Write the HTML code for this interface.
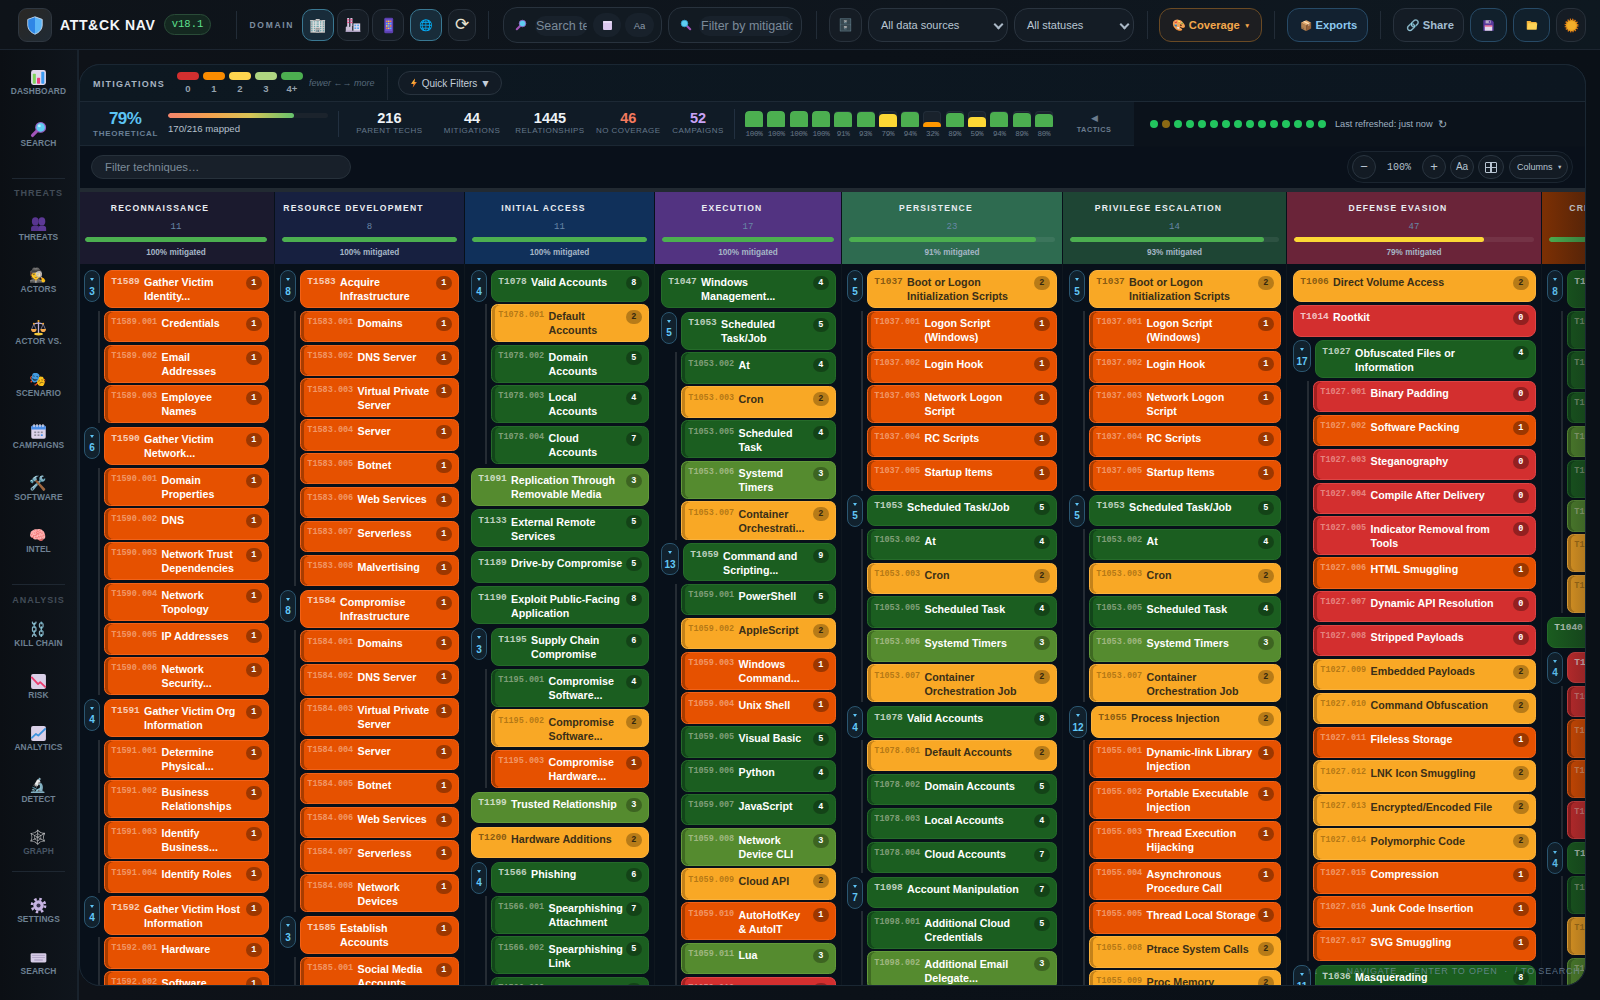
<!DOCTYPE html>
<html><head><meta charset="utf-8"><title>ATT&amp;CK Navigator</title>
<style>
*{box-sizing:border-box;margin:0;padding:0}
html,body{width:1600px;height:1000px;overflow:hidden;background:#0a0f16;font-family:"Liberation Sans",Arial,sans-serif;color:#dfe6ee}
.a{position:absolute}
.em{font-family:"Noto Color Emoji","Liberation Sans",sans-serif;font-weight:normal;letter-spacing:0}
.mono{font-family:"Liberation Mono",monospace}
/* top bar */
#top{position:absolute;left:0;top:0;width:1600px;height:50px;background:linear-gradient(90deg,#0e1319 0%,#0f161e 60%,#0e1820 100%);border-bottom:1px solid #1c2530}
.vd{position:absolute;width:1px;background:#222c37}
.logo{left:18px;top:8px;width:34px;height:34px;border-radius:9px;background:linear-gradient(135deg,#2b2824,#1f2a34);border:1px solid #2f3740;text-align:center;font-size:17px;line-height:32px}
.brand{left:60px;top:16px;font-weight:bold;font-size:14px;letter-spacing:.65px;color:#f3f5f8;line-height:18px;white-space:nowrap}
.ver{left:164px;top:14px;width:47px;height:21px;border-radius:11px;background:#142820;border:1px solid #2a4c38;color:#5ee08f;font:10.5px/19px "Liberation Mono",monospace;text-align:center}
.lbl{font-weight:bold;font-size:8.5px;letter-spacing:2px;color:#7d8ea0}
.ib{position:absolute;top:9px;width:32px;height:32px;border-radius:10px;background:#151c24;border:1px solid #28313b;text-align:center;font-size:14px;line-height:30px}
.ib.on{background:#182c3a;border-color:#3a7892}
.grp{position:absolute;top:7px;height:36px;border-radius:14px;background:#121a22;border:1px solid #28323d}
.fld{position:absolute;top:8px;height:20px;border-radius:10px;background:#18212b;color:#7b8a99;font-size:12.5px;line-height:20px;white-space:nowrap;overflow:hidden}
.sel{position:absolute;top:8px;height:34px;border-radius:14px;background:#141c25;border:1px solid #2a343f;color:#b9c6d3;font-size:11px;line-height:32px;padding-left:12px;white-space:nowrap}
.chev{position:absolute;top:12px;width:7px;height:7px;border-right:2px solid #aab8c6;border-bottom:2px solid #aab8c6;transform:rotate(45deg)}
.btn{position:absolute;top:8px;height:34px;border-radius:12px;font-weight:bold;font-size:11.2px;line-height:32px;white-space:nowrap}
/* sidebar */
#side{position:absolute;left:0;top:50px;width:77px;height:950px;background:linear-gradient(90deg,#0b0f14,#0f151c)}
#sideb{position:absolute;left:77px;top:50px;width:2px;height:950px;background:#19232d}
.si{position:absolute;left:0;width:77px;text-align:center}
.si .ic{display:block;font-size:14px;line-height:16px;height:16px}
.si .tx{display:block;font-weight:bold;font-size:8.4px;letter-spacing:.1px;color:#6e8193;line-height:10px;margin-top:1.2px;white-space:nowrap}
.sh{position:absolute;left:0;width:77px;text-align:center;font-weight:bold;font-size:9px;letter-spacing:1px;color:#424c57;line-height:10px}
.sdv{position:absolute;left:12px;width:53px;height:1px;background:#1e2731}
/* panel */
#bg2{position:absolute;left:79px;top:50px;width:1521px;height:950px;background:linear-gradient(90deg,#0e1218,#0b1118 50%,#0a1017)}
#panel{position:absolute;left:79px;top:64px;width:1507px;height:922px;border:1px solid #1a2733;border-radius:21px;background:#0a111a;overflow:hidden}
#leg{position:absolute;left:0;top:0;width:1507px;height:37px;background:linear-gradient(90deg,#0d1821,#0c1620);border-bottom:1px solid #1d2935}
#stats{position:absolute;left:0;top:37px;width:1054px;height:44px;background:#101b26;border-bottom:1px solid #1b2733}
#stats2{position:absolute;left:1054px;top:37px;width:453px;height:44px;background:#0b121b}
#filt{position:absolute;left:0;top:82px;width:1507px;height:42px;background:#09101a}
#band{position:absolute;left:0;top:123px;width:1507px;height:4px;background:#222a32}
#mxbg{position:absolute;left:0;top:127px;width:1507px;height:800px;background:#08101a}
.sw{position:absolute;top:7.2px;width:22px;height:8px;border-radius:4px}
.swn{position:absolute;top:18.6px;width:22px;text-align:center;font-size:9.5px;font-weight:bold;color:#95a2ae;line-height:10px}
.stn{position:absolute;text-align:center;font-weight:bold;font-size:14.5px;line-height:16px;color:#eef2f6}
.stl{position:absolute;text-align:center;font-size:8px;letter-spacing:.45px;color:#64778a;line-height:10px;white-space:nowrap}
.tbar{position:absolute;top:9px;width:18px;height:16px;border-radius:4px 4px 1px 1px;background:#19222c;box-shadow:inset 0 0 0 1px #222d39;overflow:hidden}
.tbar i{position:absolute;left:0;bottom:0;width:18px;border-radius:4px 4px 0 0}
.tbl{position:absolute;top:28px;width:22px;text-align:center;font-size:7.6px;color:#687888;line-height:8px;letter-spacing:-.3px}
.dot{position:absolute;top:57px;width:8px;height:8px;border-radius:4px;background:#22c55e}
.zb{position:absolute;top:90px;width:24px;height:24px;border-radius:12px;background:#131b24;border:1px solid #2a3540;text-align:center;color:#b7c4d1;font-size:11px;line-height:22px}
/* matrix */
#mx{position:absolute;left:0;top:0;width:1600px;height:1000px;clip-path:inset(192px 15px 15px 79px round 0 0 20px 20px)}
.th{position:absolute;top:192px;height:72px}
.tt{position:absolute;left:0;top:11px;text-align:center;font-weight:bold;font-size:8.6px;letter-spacing:1.2px;color:#e9edf2;line-height:10px;white-space:nowrap}
.tc{position:absolute;left:0;width:100%;top:29.5px;text-align:center;font:9px/10px "Liberation Mono",monospace;color:#6887a6}
.tb{position:absolute;left:7px;right:7px;top:45px;height:5px;border-radius:3px;background:rgba(255,255,255,.07);overflow:hidden}
.tb div{height:5px;border-radius:3px}
.tp{position:absolute;left:0;width:100%;top:55.5px;text-align:center;font-weight:bold;font-size:8.2px;color:#a6b6c6;line-height:10px}
.csep{position:absolute;top:264px;width:1px;height:730px;background:#0f171f}
.cd{position:absolute;border:1px solid;border-radius:8px;overflow:hidden}
.idp{position:absolute;left:6.3px;top:5.7px;font:bold 9.5px/10px "Liberation Mono",monospace;white-space:nowrap}
.ids{position:absolute;left:6.3px;top:5.4px;font:bold 8.5px/10px "Liberation Mono",monospace;white-space:nowrap}
.nm{position:absolute;top:4.4px;font-weight:bold;font-size:10.7px;line-height:14px;white-space:nowrap}
.bd{position:absolute;right:6px;top:5px;width:16.5px;height:14px;border-radius:7px;text-align:center;font:bold 8.5px/15px "Liberation Mono",monospace}
.pill{position:absolute;height:32px;border:1px solid #2b5670;border-radius:8px;background:#11212d}
.pill i{position:absolute;left:50%;margin-left:-2.2px;top:7.2px;width:0;height:0;border-left:2.2px solid transparent;border-right:2.2px solid transparent;border-top:3.8px solid #5ec4f5}
.pill b{position:absolute;left:0;width:100%;top:14.6px;text-align:center;font:bold 10px/12px "Liberation Sans",sans-serif;color:#62c8f7}
.vl{position:absolute;width:2px;background:#252c34}
.sv{vertical-align:top}
.ib .sv,.btn .sv{vertical-align:middle;margin-top:-2px}
.a .sv{vertical-align:middle;margin-top:-2px}
.si .ic .sv{margin-top:-.5px}

</style></head>
<body>
<div id="top">
  <div class="a logo"><svg width="16" height="19" viewBox="0 0 16 19" style="position:absolute;left:8px;top:7px"><path d="M8 .8 L15.2 3.4 V9 C15.2 13.4 12 16.6 8 18.2 C4 16.6 .8 13.4 .8 9 V3.4 Z" fill="#5cb6f7" stroke="#cfdcf0" stroke-width=".9"/><path d="M8 1.3 V17.6 C4.3 16.1 1.3 13.1 1.3 9 V3.7 Z" fill="#2f86e6"/></svg></div>
  <div class="a brand">ATT&amp;CK NAV</div>
  <div class="a ver">v18.1</div>
  <div class="vd" style="left:236px;top:11px;height:28px"></div>
  <div class="a lbl" style="left:249.5px;top:20px;line-height:10px;letter-spacing:1.7px">DOMAIN</div>
  <div class="ib on" style="left:302px"><span class="em">🏢</span></div>
  <div class="ib" style="left:337px"><svg class="sv" width="16" height="16" viewBox="0 0 16 16" style="display:inline-block"><rect x="2.2" y="1" width="2" height="8" fill="#d8cce6"/><rect x="5.4" y="1" width="2" height="8" fill="#d8cce6"/><rect x="2.2" y="2.2" width="2" height="1.3" fill="#ee4f86"/><rect x="5.4" y="2.2" width="2" height="1.3" fill="#ee4f86"/><rect x="2.2" y="4.8" width="2" height="1.3" fill="#ee4f86"/><rect x="5.4" y="4.8" width="2" height="1.3" fill="#ee4f86"/><path d="M.8 15 V10 L4 8.2 V10 L7.2 8.2 V15Z" fill="#cbc0d8"/><rect x="8.4" y="6.4" width="6.8" height="8.6" fill="#e0d8ea"/><g fill="#58a8ee"><rect x="9.4" y="7.6" width="1.8" height="1.6"/><rect x="12.2" y="7.6" width="1.8" height="1.6"/><rect x="9.4" y="10.4" width="1.8" height="1.6"/><rect x="12.2" y="10.4" width="1.8" height="1.6"/></g><rect x=".8" y="13.6" width="14.4" height="1.4" fill="#a89cbc"/></svg></div>
  <div class="ib" style="left:372px"><svg class="sv" width="17" height="17" viewBox="0 0 16 16" style="display:inline-block"><rect x="4" y=".6" width="8.4" height="14.8" rx="1.4" fill="#5b3fae"/><rect x="5" y="2.2" width="6.4" height="11.2" fill="#6e56d2"/><g><circle cx="6.4" cy="4" r=".8" fill="#f58a3a"/><circle cx="8.2" cy="4" r=".8" fill="#f6d24a"/><circle cx="10" cy="4" r=".8" fill="#f58a3a"/><circle cx="6.4" cy="6.2" r=".8" fill="#5ab8f5"/><circle cx="8.2" cy="6.2" r=".8" fill="#f6d24a"/><circle cx="10" cy="6.2" r=".8" fill="#5ab8f5"/><circle cx="6.4" cy="8.4" r=".8" fill="#f6d24a"/><circle cx="8.2" cy="8.4" r=".8" fill="#5ab8f5"/><circle cx="10" cy="8.4" r=".8" fill="#f58a3a"/><circle cx="6.4" cy="10.6" r=".8" fill="#f58a3a"/><circle cx="8.2" cy="10.6" r=".8" fill="#f6d24a"/><circle cx="10" cy="10.6" r=".8" fill="#5ab8f5"/></g></svg></div>
  <div class="ib on" style="left:410px;font-size:11px"><span class="em">🌐</span></div>
  <div class="ib" style="left:448px;width:28px;font-size:17px;color:#e8e2d0">⟳</div>
  <div class="vd" style="left:488px;top:11px;height:28px"></div>
  <div class="grp" style="left:503px;width:159px">
    <span class="a" style="left:10.5px;top:12.5px;line-height:0"><svg class="sv" width="12" height="12" viewBox="0 0 16 16" style="display:block"><path d="M6.4 9.6 L2.4 13.6" stroke="#a154b8" stroke-width="2.8" stroke-linecap="round"/><circle cx="10" cy="6" r="4.4" fill="#5fcdf2" stroke="#9a5cc0" stroke-width="1"/></svg></span>
    <div class="fld" style="left:31px;width:52px;padding-left:1px">Search techniques</div>
    <div class="a" style="left:89px;top:5px;width:28px;height:24px;border-radius:12px;background:#18212b;text-align:center;line-height:24px;font-size:11px"><svg class="sv" width="11" height="11" viewBox="0 0 16 16" style="display:inline-block"><rect x="1.5" y="1.5" width="13" height="13" rx="1.5" fill="#dcc9ef"/><rect x="1.5" y="1.5" width="13" height="3" rx="1.5" fill="#e9dcf6"/></svg></div>
    <div class="a" style="left:121px;top:5px;width:29px;height:24px;border-radius:12px;background:#18212b;text-align:center;line-height:25px;font-size:9.5px;color:#8b9aa9">Aa</div>
  </div>
  <div class="grp" style="left:668px;width:134px">
    <span class="a" style="left:10.5px;top:12.5px;line-height:0"><svg class="sv" width="12" height="12" viewBox="0 0 16 16" style="display:block"><path d="M9.6 9.6 L13.6 13.6" stroke="#a154b8" stroke-width="2.8" stroke-linecap="round"/><circle cx="6" cy="6" r="4.4" fill="#5fcdf2" stroke="#2f9fd0" stroke-width="1"/></svg></span>
    <div class="fld" style="left:30px;width:94px;padding-left:2px">Filter by mitigation</div>
  </div>
  <div class="vd" style="left:816px;top:11px;height:28px"></div>
  <div class="ib" style="left:829px;top:8px;width:33px;height:34px;border-radius:12px;line-height:32px;font-size:12px"><span class="em">🗄️</span></div>
  <div class="sel" style="left:868px;width:140px">All data sources<i class="chev" style="left:126px"></i></div>
  <div class="sel" style="left:1014px;width:120px">All statuses<i class="chev" style="left:106px"></i></div>
  <div class="vd" style="left:1147px;top:11px;height:28px"></div>
  <div class="btn" style="left:1159px;width:103px;background:#1d1e21;border:1px solid #6a4a24;color:#f3a84c;padding-left:12px"><span class="em" style="font-size:11px">🎨</span> Coverage <span style="font-size:6.5px;margin-left:1px;vertical-align:1px">▼</span></div>
  <div class="vd" style="left:1274px;top:11px;height:28px"></div>
  <div class="btn" style="left:1287px;width:81px;background:#122130;border:1px solid #274a66;color:#8cc8ee;padding-left:12px"><span class="em" style="font-size:10px">📦</span> Exports</div>
  <div class="vd" style="left:1380px;top:11px;height:28px"></div>
  <div class="btn" style="left:1393px;width:71px;background:#141c25;border:1px solid #28323d;color:#a3bcd1;padding-left:12px"><span class="em" style="font-size:11px">🔗</span> Share</div>
  <div class="ib" style="left:1470px;top:8px;width:37px;height:34px;border-radius:12px;background:#11202c;border-color:#274a66;line-height:32px"><svg class="sv" width="13" height="13" viewBox="0 0 16 16" style="display:inline-block"><path d="M1.6 1.6 H12.2 L14.4 3.8 V14.4 H1.6Z" fill="#5b3a9e"/><rect x="4.4" y="1.6" width="6.2" height="3.8" fill="#b7acc8"/><rect x="8.4" y="2.2" width="1.4" height="2.6" fill="#5b3a9e"/><rect x="3.4" y="8" width="9.2" height="6.4" fill="#e4dcef"/><rect x="3.4" y="8" width="9.2" height="1.3" fill="#ef4470"/></svg></div>
  <div class="ib" style="left:1513px;top:8px;width:37px;height:34px;border-radius:12px;background:#11202c;border-color:#274a66;line-height:32px"><svg class="sv" width="12" height="12" viewBox="0 0 16 16" style="display:inline-block"><path d="M1 2.5 H6 L7.4 4 H14 V14 H1Z" fill="#f4b43c"/><path d="M2.6 5.6 H15 L14 14 H1.6Z" fill="#fdd356"/></svg></div>
  <div class="ib" style="left:1556px;top:8px;width:30px;height:34px;border-radius:12px;line-height:32px"><svg class="sv" width="15" height="15" viewBox="0 0 16 16" style="display:inline-block"><circle cx="8" cy="8" r="6.4" fill="none" stroke="#e57a12" stroke-width="2" stroke-dasharray="1.3 1.21"/><circle cx="8" cy="8" r="6" fill="#eda01f"/><circle cx="8" cy="8" r="4.6" fill="#f2ae2a"/></svg></div>
</div>

<div id="side">
  <div class="si" style="top:19px"><span class="ic"><svg class="sv" width="17" height="17" viewBox="0 0 16 16" style="display:inline-block"><rect x="1" y="1" width="14" height="14" rx="2.2" fill="#e2d9ee"/><rect x="2.6" y="4.5" width="2.9" height="9.3" rx=".6" fill="#7fd45e"/><rect x="6.6" y="8.3" width="2.9" height="5.5" rx=".6" fill="#e9407f"/><rect x="10.6" y="2.6" width="2.9" height="11.2" rx=".6" fill="#3d9cf2"/></svg></span><span class="tx">DASHBOARD</span></div>
  <div class="si" style="top:71px"><span class="ic"><svg class="sv" width="17" height="17" viewBox="0 0 16 16" style="display:inline-block"><path d="M6.6 9.4 L2.4 13.6" stroke="#a154b8" stroke-width="3" stroke-linecap="round"/><circle cx="10" cy="6" r="4.6" fill="#5fcdf2" stroke="#9a5cc0" stroke-width="1.1"/><circle cx="8.8" cy="4.6" r="1.3" fill="#bdf0ff"/></svg></span><span class="tx">SEARCH</span></div>
  <div class="sdv" style="top:128px"></div>
  <div class="sh" style="top:138px">THREATS</div>
  <div class="si" style="top:165px"><span class="ic"><svg class="sv" width="17" height="17" viewBox="0 0 16 16" style="display:inline-block"><ellipse cx="5" cy="6" rx="3.2" ry="3.9" fill="#58358f"/><ellipse cx="11.2" cy="6" rx="3.2" ry="3.9" fill="#5d3996"/><path d="M1 15 V12.6 Q1 10.2 3.6 10.2 H8 V15 Z" fill="#55338c"/><path d="M7.6 15 V12.6 Q7.6 10.2 10.2 10.2 H12.6 Q15.2 10.2 15.2 12.6 V15 Z" fill="#5d3996"/></svg></span><span class="tx">THREATS</span></div>
  <div class="si" style="top:217px"><span class="ic em">🕵️</span><span class="tx">ACTORS</span></div>
  <div class="si" style="top:269px"><span class="ic"><svg class="sv" width="17" height="17" viewBox="0 0 16 16" style="display:inline-block"><rect x="7.4" y="2.6" width="1.2" height="11" fill="#c0b2d6"/><path d="M3.6 4.6 Q8 3.2 12.4 4.6" stroke="#c0b2d6" stroke-width="1" fill="none"/><circle cx="8" cy="1.9" r="1" fill="#f5a623"/><circle cx="3.6" cy="4.4" r=".9" fill="#f5a623"/><circle cx="12.4" cy="4.4" r=".9" fill="#f5a623"/><path d="M3.6 5 L1.6 9.4 M3.6 5 L5.6 9.4 M12.4 5 L10.4 9.4 M12.4 5 L14.4 9.4" stroke="#b4a6c8" stroke-width=".6"/><path d="M0.9 9.4 H6.3 Q6.1 12.3 3.6 12.3 Q1.1 12.3 0.9 9.4Z" fill="#f6a94c"/><path d="M9.7 9.4 H15.1 Q14.9 12.3 12.4 12.3 Q9.9 12.3 9.7 9.4Z" fill="#f6a94c"/><ellipse cx="8" cy="14.2" rx="4.2" ry="1.3" fill="#f5c93a"/></svg></span><span class="tx">ACTOR VS.</span></div>
  <div class="si" style="top:321px"><span class="ic em">🎭</span><span class="tx">SCENARIO</span></div>
  <div class="si" style="top:373px"><span class="ic"><svg class="sv" width="17" height="17" viewBox="0 0 16 16" style="display:inline-block"><rect x="1.2" y="2.4" width="13.6" height="12.4" rx="1.6" fill="#ddd3ea"/><path d="M1.2 6.2 V4 Q1.2 2.4 2.8 2.4 H13.2 Q14.8 2.4 14.8 4 V6.2 Z" fill="#4a8ee8"/><g fill="#e8e4f0"><rect x="3.2" y="1" width="1.2" height="3" rx=".6"/><rect x="6" y="1" width="1.2" height="3" rx=".6"/><rect x="8.8" y="1" width="1.2" height="3" rx=".6"/><rect x="11.6" y="1" width="1.2" height="3" rx=".6"/></g><g fill="#8d8a98"><rect x="4" y="8" width="1.8" height="1.5"/><rect x="7.1" y="8" width="1.8" height="1.5"/><rect x="10.2" y="8" width="1.8" height="1.5"/><rect x="4" y="10.7" width="1.8" height="1.5"/><rect x="7.1" y="10.7" width="1.8" height="1.5"/></g><rect x="10.2" y="10.7" width="1.8" height="1.5" fill="#3f8ff0"/></svg></span><span class="tx">CAMPAIGNS</span></div>
  <div class="si" style="top:425px"><span class="ic em">🛠️</span><span class="tx">SOFTWARE</span></div>
  <div class="si" style="top:477px"><span class="ic em">🧠</span><span class="tx">INTEL</span></div>
  <div class="sdv" style="top:534px"></div>
  <div class="sh" style="top:545px">ANALYSIS</div>
  <div class="si" style="top:571px"><span class="ic em">⛓️</span><span class="tx">KILL CHAIN</span></div>
  <div class="si" style="top:623px"><span class="ic"><svg class="sv" width="17" height="17" viewBox="0 0 16 16" style="display:inline-block"><rect x="1" y="1" width="14" height="14" rx="1.8" fill="#dad0e8"/><path d="M1.2 3.6 L7.6 10.4 L9.6 8.6 L14.8 13.6" stroke="#ea3c6e" stroke-width="1.7" fill="none" stroke-linejoin="round"/></svg></span><span class="tx">RISK</span></div>
  <div class="si" style="top:675px"><span class="ic"><svg class="sv" width="17" height="17" viewBox="0 0 16 16" style="display:inline-block"><rect x="1" y="1" width="14" height="14" rx="1.8" fill="#dad0e8"/><path d="M1.2 12.6 L5.6 8.4 L7.8 10 L14.8 3.2" stroke="#3b93de" stroke-width="1.7" fill="none" stroke-linejoin="round"/></svg></span><span class="tx">ANALYTICS</span></div>
  <div class="si" style="top:727px"><span class="ic em">🔬</span><span class="tx">DETECT</span></div>
  <div class="si" style="top:779px"><span class="ic em" style="filter:grayscale(1) brightness(2.4);opacity:.75">🕸️</span><span class="tx" style="color:#475564">GRAPH</span></div>
  <div class="sdv" style="top:821px"></div>
  <div class="si" style="top:847px"><span class="ic"><svg class="sv" width="17" height="17" viewBox="0 0 16 16" style="display:inline-block"><circle cx="8" cy="8" r="6.1" fill="none" stroke="#c7b4e3" stroke-width="2.6" stroke-dasharray="2.3 2.49"/><circle cx="8" cy="8" r="4.9" fill="#c7b4e3"/><circle cx="8" cy="8" r="1.9" fill="#3b3550"/></svg></span><span class="tx">SETTINGS</span></div>
  <div class="si" style="top:899px"><span class="ic"><svg class="sv" width="17" height="17" viewBox="0 0 16 16" style="display:inline-block"><rect x=".6" y="4" width="14.8" height="8.6" rx="1.2" fill="#d6cce6"/><g fill="#a99cc0"><rect x="2" y="5.6" width="12" height=".7"/><rect x="2" y="7.6" width="12" height=".7"/><rect x="4" y="9.8" width="8" height="1.1"/></g></svg></span><span class="tx">SEARCH</span></div>
</div>
<div id="sideb"></div>
<div id="bg2"></div>

<div id="panel">
  <div id="leg">
    <div class="a" style="left:13px;top:13.7px;font-weight:bold;font-size:9px;letter-spacing:1.25px;color:#a7b4c1;line-height:10px">MITIGATIONS</div>
    <div class="sw" style="left:97px;background:#d32f2f"></div>
    <div class="sw" style="left:123px;background:#fb8c00"></div>
    <div class="sw" style="left:149px;background:#ffd54f"></div>
    <div class="sw" style="left:175px;background:#aed581"></div>
    <div class="sw" style="left:201px;background:#4caf50"></div>
    <div class="swn" style="left:97px">0</div>
    <div class="swn" style="left:123px">1</div>
    <div class="swn" style="left:149px">2</div>
    <div class="swn" style="left:175px">3</div>
    <div class="swn" style="left:201px">4+</div>
    <div class="a" style="left:229px;top:13px;font-style:italic;font-size:9px;color:#56687a;line-height:10px;white-space:nowrap">fewer ←→ more</div>
    <div class="vd" style="left:307px;top:2px;height:33px;background:#1e2833"></div>
    <div class="a" style="left:318px;top:6px;width:104px;height:24px;border-radius:12px;border:1px solid #28333e;background:#121b25;color:#c3ced9;font-size:10px;line-height:23.5px;padding-left:10px;white-space:nowrap"><svg class="sv" width="10" height="10" viewBox="0 0 16 16" style="display:inline-block"><path d="M9.6 .6 L3.4 9 H7.4 L5.8 15.4 L12.6 6.4 H8.4 Z" fill="#f07a2a"/><path d="M9.6 .6 L3.4 9 H7.4 L7 10.8 L10.2 6.4 H8.4Z" fill="#f5b23a"/></svg> Quick Filters <span style="font-size:10.5px">▼</span></div>
  </div>
  <div id="stats">
    <div class="a" style="left:29px;top:8px;font-weight:bold;font-size:17px;letter-spacing:-.6px;color:#5cc4f4;line-height:18px">79%</div>
    <div class="a" style="left:13px;top:27px;font-weight:bold;font-size:8px;letter-spacing:.75px;color:#6a8096;line-height:10px">THEORETICAL</div>
    <div class="a" style="left:88px;top:11px;width:160px;height:5px;border-radius:3px;background:#1b232c;overflow:hidden"><div style="width:126px;height:5px;border-radius:3px;background:linear-gradient(90deg,#f4846c,#f3a34e 35%,#d9c456 65%,#66c26c)"></div></div>
    <div class="a" style="left:88px;top:21px;font-size:9.6px;color:#b4c0cc;line-height:12px;white-space:nowrap">170/216 mapped</div>
    <div class="vd" style="left:258px;top:9px;height:26px;background:#223040"></div>
    <div class="stn" style="left:259.4px;width:100px;top:8.2px;color:#eef2f6">216</div><div class="stl" style="left:259.4px;width:100px;top:24.3px">PARENT TECHS</div><div class="stn" style="left:342.0px;width:100px;top:8.2px;color:#eef2f6">44</div><div class="stl" style="left:342.0px;width:100px;top:24.3px">MITIGATIONS</div><div class="stn" style="left:420.0px;width:100px;top:8.2px;color:#eef2f6">1445</div><div class="stl" style="left:420.0px;width:100px;top:24.3px">RELATIONSHIPS</div><div class="stn" style="left:498.3px;width:100px;top:8.2px;color:#f47a5e">46</div><div class="stl" style="left:498.3px;width:100px;top:24.3px">NO COVERAGE</div><div class="stn" style="left:568.0px;width:100px;top:8.2px;color:#c9a3f6">52</div><div class="stl" style="left:568.0px;width:100px;top:24.3px">CAMPAIGNS</div>
    <div class="vd" style="left:654px;top:7px;height:30px;background:#223040"></div>
    <div class="tbar" style="left:665.00px;top:8.7px"><i style="height:16.0px;background:#4caf50"></i></div><div class="tbl mono" style="left:663.00px;top:28px">100%</div><div class="tbar" style="left:687.30px;top:8.7px"><i style="height:16.0px;background:#4caf50"></i></div><div class="tbl mono" style="left:685.30px;top:28px">100%</div><div class="tbar" style="left:709.60px;top:8.7px"><i style="height:16.0px;background:#4caf50"></i></div><div class="tbl mono" style="left:707.60px;top:28px">100%</div><div class="tbar" style="left:731.90px;top:8.7px"><i style="height:16.0px;background:#4caf50"></i></div><div class="tbl mono" style="left:729.90px;top:28px">100%</div><div class="tbar" style="left:754.20px;top:8.7px"><i style="height:14.6px;background:#4caf50"></i></div><div class="tbl mono" style="left:752.20px;top:28px">91%</div><div class="tbar" style="left:776.50px;top:8.7px"><i style="height:14.9px;background:#4caf50"></i></div><div class="tbl mono" style="left:774.50px;top:28px">93%</div><div class="tbar" style="left:798.80px;top:8.7px"><i style="height:12.6px;background:#fdd835"></i></div><div class="tbl mono" style="left:796.80px;top:28px">79%</div><div class="tbar" style="left:821.10px;top:8.7px"><i style="height:15.0px;background:#4caf50"></i></div><div class="tbl mono" style="left:819.10px;top:28px">94%</div><div class="tbar" style="left:843.40px;top:8.7px"><i style="height:5.1px;background:#ff9800"></i></div><div class="tbl mono" style="left:841.40px;top:28px">32%</div><div class="tbar" style="left:865.70px;top:8.7px"><i style="height:14.2px;background:#4caf50"></i></div><div class="tbl mono" style="left:863.70px;top:28px">89%</div><div class="tbar" style="left:888.00px;top:8.7px"><i style="height:9.4px;background:#fdd835"></i></div><div class="tbl mono" style="left:886.00px;top:28px">59%</div><div class="tbar" style="left:910.30px;top:8.7px"><i style="height:15.0px;background:#4caf50"></i></div><div class="tbl mono" style="left:908.30px;top:28px">94%</div><div class="tbar" style="left:932.60px;top:8.7px"><i style="height:14.2px;background:#4caf50"></i></div><div class="tbl mono" style="left:930.60px;top:28px">89%</div><div class="tbar" style="left:954.90px;top:8.7px"><i style="height:12.8px;background:#4caf50"></i></div><div class="tbl mono" style="left:952.90px;top:28px">80%</div>
    <div class="a" style="left:999px;top:11px;width:30px;text-align:center;font-size:9px;color:#6b7c8e;line-height:10px">◀</div>
    <div class="a" style="left:994px;top:23.8px;width:40px;text-align:center;font-weight:bold;font-size:7.3px;letter-spacing:.5px;color:#6b7c8e;line-height:8px">TACTICS</div>
  </div>
  <div id="stats2"></div>
  <div class="dot" style="left:1070px;top:55px;background:#22c55e"></div><div class="dot" style="left:1082px;top:55px;background:#8b6914"></div><div class="dot" style="left:1094px;top:55px;background:#22c55e"></div><div class="dot" style="left:1106px;top:55px;background:#22c55e"></div><div class="dot" style="left:1118px;top:55px;background:#22c55e"></div><div class="dot" style="left:1130px;top:55px;background:#22c55e"></div><div class="dot" style="left:1142px;top:55px;background:#22c55e"></div><div class="dot" style="left:1154px;top:55px;background:#22c55e"></div><div class="dot" style="left:1166px;top:55px;background:#22c55e"></div><div class="dot" style="left:1178px;top:55px;background:#22c55e"></div><div class="dot" style="left:1190px;top:55px;background:#22c55e"></div><div class="dot" style="left:1202px;top:55px;background:#22c55e"></div><div class="dot" style="left:1214px;top:55px;background:#22c55e"></div><div class="dot" style="left:1226px;top:55px;background:#22c55e"></div><div class="dot" style="left:1238px;top:55px;background:#22c55e"></div>
  <div class="a" style="left:1255px;top:52.6px;font-size:9.2px;color:#9fb0c0;line-height:12px;white-space:nowrap">Last refreshed: just now</div>
  <div class="a" style="left:1358px;top:52px;font-size:11px;color:#9fb0c0;line-height:14px">↻</div>
  <div id="filt"></div>
  <div class="a" style="left:11px;top:90px;width:260px;height:24px;border-radius:12px;background:#18202a;border:1px solid #27313b;color:#7d8b99;font-size:11.3px;line-height:22px;padding-left:13px;white-space:nowrap">Filter techniques…</div>
  <div class="a" style="left:1267px;top:86px;width:226px;height:32px;border-radius:16px;border:1px solid #1b2530;background:#0c141d"></div>
  <div class="zb" style="left:1272px;font-size:13px">−</div>
  <div class="a mono" style="left:1296px;top:97.4px;width:46px;text-align:center;font-size:10px;color:#b4c1ce;line-height:12px">100%</div>
  <div class="zb" style="left:1342px;font-size:13px">+</div>
  <div class="zb" style="left:1370px;font-size:10px">Aa</div>
  <div class="zb" style="left:1398px;width:26px"><span style="position:absolute;left:6px;top:6px;width:12px;height:11px;border:1.5px solid #b7c4d1;border-radius:1px"></span><span style="position:absolute;left:11.3px;top:6px;width:1.5px;height:11px;background:#b7c4d1"></span><span style="position:absolute;left:6px;top:10.8px;width:12px;height:1.5px;background:#b7c4d1"></span></div>
  <div class="zb" style="left:1429px;width:59px;text-align:left;padding-left:7px;font-size:9px">Columns <span style="font-size:5.5px;vertical-align:1px;margin-left:2px">▼</span></div>
  <div id="band"></div>
  <div id="mxbg"></div>
</div>

<div id="pb" class="a" style="left:79px;top:64px;width:1507px;height:922px;border:1px solid #1a2733;border-radius:21px;z-index:5;pointer-events:none"></div>
<div id="mx">
  <div class="a" style="left:0;top:0;width:1600px;height:1000px;background:#08101a"></div>
  <div class="th" style="left:78px;width:196px;background:#1b1a2e"><div class="tt" style="width:164px">RECONNAISSANCE</div><div class="tc">11</div><div class="tb"><div style="width:100%;background:#4caf50"></div></div><div class="tp">100% mitigated</div></div><div class="th" style="left:275px;width:189px;background:#172040"><div class="tt" style="width:157px">RESOURCE DEVELOPMENT</div><div class="tc">8</div><div class="tb"><div style="width:100%;background:#4caf50"></div></div><div class="tp">100% mitigated</div></div><div class="th" style="left:465px;width:189px;background:#10305a"><div class="tt" style="width:157px">INITIAL ACCESS</div><div class="tc">11</div><div class="tb"><div style="width:100%;background:#4caf50"></div></div><div class="tp">100% mitigated</div></div><div class="th" style="left:655px;width:186px;background:#523381"><div class="tt" style="width:154px">EXECUTION</div><div class="tc">17</div><div class="tb"><div style="width:100%;background:#4caf50"></div></div><div class="tp">100% mitigated</div></div><div class="th" style="left:842px;width:220px;background:#2e6b50"><div class="tt" style="width:188px">PERSISTENCE</div><div class="tc">23</div><div class="tb"><div style="width:91%;background:#4caf50"></div></div><div class="tp">91% mitigated</div></div><div class="th" style="left:1063px;width:223px;background:#1e4534"><div class="tt" style="width:191px">PRIVILEGE ESCALATION</div><div class="tc">14</div><div class="tb"><div style="width:93%;background:#4caf50"></div></div><div class="tp">93% mitigated</div></div><div class="th" style="left:1287px;width:254px;background:#6a2439"><div class="tt" style="width:222px">DEFENSE EVASION</div><div class="tc">47</div><div class="tb"><div style="width:79%;background:#fdd835"></div></div><div class="tp">79% mitigated</div></div><div class="th" style="left:1542px;width:200px;background:#7a2f04"><div class="tt" style="width:168px">CREDENTIAL ACCESS</div><div class="tc">17</div><div class="tb"><div style="width:88%;background:#4caf50"></div></div><div class="tp">88% mitigated</div></div>
  <div class="csep" style="left:274px"></div><div class="csep" style="left:464px"></div><div class="csep" style="left:654px"></div><div class="csep" style="left:841px"></div><div class="csep" style="left:1062px"></div><div class="csep" style="left:1286px"></div><div class="csep" style="left:1541px"></div><div class="pill" style="left:84px;top:270.00px;width:16px"><i></i><b>3</b></div><div class="cd" style="left:104.00px;top:270.00px;width:165.00px;height:38.20px;background:#e65100;border-color:#f26218;"><span class="idp" style="color:rgba(255,255,255,.72)">T1589</span><span class="nm" style="left:39.10px;color:#ffffff">Gather Victim<br>Identity...</span><span class="bd" style="background:rgba(0,0,0,.32);color:#ffffff">1</span></div><div class="cd" style="left:104.00px;top:310.60px;width:165.00px;height:31.50px;background:#e65100;border-color:#f26218;box-shadow:inset 3px 0 0 #a83c00;border-radius:6.5px;"><span class="ids" style="color:rgba(255,240,230,.45)">T1589.001</span><span class="nm" style="left:56.50px;color:#ffffff">Credentials</span><span class="bd" style="background:rgba(0,0,0,.32);color:#ffffff">1</span></div><div class="cd" style="left:104.00px;top:344.50px;width:165.00px;height:38.20px;background:#e65100;border-color:#f26218;box-shadow:inset 3px 0 0 #a83c00;border-radius:6.5px;"><span class="ids" style="color:rgba(255,240,230,.45)">T1589.002</span><span class="nm" style="left:56.50px;color:#ffffff">Email<br>Addresses</span><span class="bd" style="background:rgba(0,0,0,.32);color:#ffffff">1</span></div><div class="cd" style="left:104.00px;top:385.10px;width:165.00px;height:38.20px;background:#e65100;border-color:#f26218;box-shadow:inset 3px 0 0 #a83c00;border-radius:6.5px;"><span class="ids" style="color:rgba(255,240,230,.45)">T1589.003</span><span class="nm" style="left:56.50px;color:#ffffff">Employee<br>Names</span><span class="bd" style="background:rgba(0,0,0,.32);color:#ffffff">1</span></div><div class="vl" style="left:98px;top:310.60px;height:112.70px"></div><div class="pill" style="left:84px;top:426.90px;width:16px"><i></i><b>6</b></div><div class="cd" style="left:104.00px;top:426.90px;width:165.00px;height:38.20px;background:#e65100;border-color:#f26218;"><span class="idp" style="color:rgba(255,255,255,.72)">T1590</span><span class="nm" style="left:39.10px;color:#ffffff">Gather Victim<br>Network...</span><span class="bd" style="background:rgba(0,0,0,.32);color:#ffffff">1</span></div><div class="cd" style="left:104.00px;top:467.50px;width:165.00px;height:38.20px;background:#e65100;border-color:#f26218;box-shadow:inset 3px 0 0 #a83c00;border-radius:6.5px;"><span class="ids" style="color:rgba(255,240,230,.45)">T1590.001</span><span class="nm" style="left:56.50px;color:#ffffff">Domain<br>Properties</span><span class="bd" style="background:rgba(0,0,0,.32);color:#ffffff">1</span></div><div class="cd" style="left:104.00px;top:508.10px;width:165.00px;height:31.50px;background:#e65100;border-color:#f26218;box-shadow:inset 3px 0 0 #a83c00;border-radius:6.5px;"><span class="ids" style="color:rgba(255,240,230,.45)">T1590.002</span><span class="nm" style="left:56.50px;color:#ffffff">DNS</span><span class="bd" style="background:rgba(0,0,0,.32);color:#ffffff">1</span></div><div class="cd" style="left:104.00px;top:542.00px;width:165.00px;height:38.20px;background:#e65100;border-color:#f26218;box-shadow:inset 3px 0 0 #a83c00;border-radius:6.5px;"><span class="ids" style="color:rgba(255,240,230,.45)">T1590.003</span><span class="nm" style="left:56.50px;color:#ffffff">Network Trust<br>Dependencies</span><span class="bd" style="background:rgba(0,0,0,.32);color:#ffffff">1</span></div><div class="cd" style="left:104.00px;top:582.60px;width:165.00px;height:38.20px;background:#e65100;border-color:#f26218;box-shadow:inset 3px 0 0 #a83c00;border-radius:6.5px;"><span class="ids" style="color:rgba(255,240,230,.45)">T1590.004</span><span class="nm" style="left:56.50px;color:#ffffff">Network<br>Topology</span><span class="bd" style="background:rgba(0,0,0,.32);color:#ffffff">1</span></div><div class="cd" style="left:104.00px;top:623.20px;width:165.00px;height:31.50px;background:#e65100;border-color:#f26218;box-shadow:inset 3px 0 0 #a83c00;border-radius:6.5px;"><span class="ids" style="color:rgba(255,240,230,.45)">T1590.005</span><span class="nm" style="left:56.50px;color:#ffffff">IP Addresses</span><span class="bd" style="background:rgba(0,0,0,.32);color:#ffffff">1</span></div><div class="cd" style="left:104.00px;top:657.10px;width:165.00px;height:38.20px;background:#e65100;border-color:#f26218;box-shadow:inset 3px 0 0 #a83c00;border-radius:6.5px;"><span class="ids" style="color:rgba(255,240,230,.45)">T1590.006</span><span class="nm" style="left:56.50px;color:#ffffff">Network<br>Security...</span><span class="bd" style="background:rgba(0,0,0,.32);color:#ffffff">1</span></div><div class="vl" style="left:98px;top:467.50px;height:227.80px"></div><div class="pill" style="left:84px;top:698.90px;width:16px"><i></i><b>4</b></div><div class="cd" style="left:104.00px;top:698.90px;width:165.00px;height:38.20px;background:#e65100;border-color:#f26218;"><span class="idp" style="color:rgba(255,255,255,.72)">T1591</span><span class="nm" style="left:39.10px;color:#ffffff">Gather Victim Org<br>Information</span><span class="bd" style="background:rgba(0,0,0,.32);color:#ffffff">1</span></div><div class="cd" style="left:104.00px;top:739.50px;width:165.00px;height:38.20px;background:#e65100;border-color:#f26218;box-shadow:inset 3px 0 0 #a83c00;border-radius:6.5px;"><span class="ids" style="color:rgba(255,240,230,.45)">T1591.001</span><span class="nm" style="left:56.50px;color:#ffffff">Determine<br>Physical...</span><span class="bd" style="background:rgba(0,0,0,.32);color:#ffffff">1</span></div><div class="cd" style="left:104.00px;top:780.10px;width:165.00px;height:38.20px;background:#e65100;border-color:#f26218;box-shadow:inset 3px 0 0 #a83c00;border-radius:6.5px;"><span class="ids" style="color:rgba(255,240,230,.45)">T1591.002</span><span class="nm" style="left:56.50px;color:#ffffff">Business<br>Relationships</span><span class="bd" style="background:rgba(0,0,0,.32);color:#ffffff">1</span></div><div class="cd" style="left:104.00px;top:820.70px;width:165.00px;height:38.20px;background:#e65100;border-color:#f26218;box-shadow:inset 3px 0 0 #a83c00;border-radius:6.5px;"><span class="ids" style="color:rgba(255,240,230,.45)">T1591.003</span><span class="nm" style="left:56.50px;color:#ffffff">Identify<br>Business...</span><span class="bd" style="background:rgba(0,0,0,.32);color:#ffffff">1</span></div><div class="cd" style="left:104.00px;top:861.30px;width:165.00px;height:31.50px;background:#e65100;border-color:#f26218;box-shadow:inset 3px 0 0 #a83c00;border-radius:6.5px;"><span class="ids" style="color:rgba(255,240,230,.45)">T1591.004</span><span class="nm" style="left:56.50px;color:#ffffff">Identify Roles</span><span class="bd" style="background:rgba(0,0,0,.32);color:#ffffff">1</span></div><div class="vl" style="left:98px;top:739.50px;height:153.30px"></div><div class="pill" style="left:84px;top:896.40px;width:16px"><i></i><b>4</b></div><div class="cd" style="left:104.00px;top:896.40px;width:165.00px;height:38.20px;background:#e65100;border-color:#f26218;"><span class="idp" style="color:rgba(255,255,255,.72)">T1592</span><span class="nm" style="left:39.10px;color:#ffffff">Gather Victim Host<br>Information</span><span class="bd" style="background:rgba(0,0,0,.32);color:#ffffff">1</span></div><div class="cd" style="left:104.00px;top:937.00px;width:165.00px;height:31.50px;background:#e65100;border-color:#f26218;box-shadow:inset 3px 0 0 #a83c00;border-radius:6.5px;"><span class="ids" style="color:rgba(255,240,230,.45)">T1592.001</span><span class="nm" style="left:56.50px;color:#ffffff">Hardware</span><span class="bd" style="background:rgba(0,0,0,.32);color:#ffffff">1</span></div><div class="cd" style="left:104.00px;top:970.90px;width:165.00px;height:31.50px;background:#e65100;border-color:#f26218;box-shadow:inset 3px 0 0 #a83c00;border-radius:6.5px;"><span class="ids" style="color:rgba(255,240,230,.45)">T1592.002</span><span class="nm" style="left:56.50px;color:#ffffff">Software</span><span class="bd" style="background:rgba(0,0,0,.32);color:#ffffff">1</span></div><div class="cd" style="left:104.00px;top:1004.80px;width:165.00px;height:31.50px;background:#e65100;border-color:#f26218;box-shadow:inset 3px 0 0 #a83c00;border-radius:6.5px;"><span class="ids" style="color:rgba(255,240,230,.45)">T1592.003</span><span class="nm" style="left:56.50px;color:#ffffff">Firmware</span><span class="bd" style="background:rgba(0,0,0,.32);color:#ffffff">1</span></div><div class="cd" style="left:104.00px;top:1038.70px;width:165.00px;height:38.20px;background:#e65100;border-color:#f26218;box-shadow:inset 3px 0 0 #a83c00;border-radius:6.5px;"><span class="ids" style="color:rgba(255,240,230,.45)">T1592.004</span><span class="nm" style="left:56.50px;color:#ffffff">Client<br>Configurations</span><span class="bd" style="background:rgba(0,0,0,.32);color:#ffffff">1</span></div><div class="vl" style="left:98px;top:937.00px;height:139.90px"></div><div class="pill" style="left:280px;top:270.00px;width:16px"><i></i><b>8</b></div><div class="cd" style="left:300.00px;top:270.00px;width:159.00px;height:38.20px;background:#e65100;border-color:#f26218;"><span class="idp" style="color:rgba(255,255,255,.72)">T1583</span><span class="nm" style="left:39.10px;color:#ffffff">Acquire<br>Infrastructure</span><span class="bd" style="background:rgba(0,0,0,.32);color:#ffffff">1</span></div><div class="cd" style="left:300.00px;top:310.60px;width:159.00px;height:31.50px;background:#e65100;border-color:#f26218;box-shadow:inset 3px 0 0 #a83c00;border-radius:6.5px;"><span class="ids" style="color:rgba(255,240,230,.45)">T1583.001</span><span class="nm" style="left:56.50px;color:#ffffff">Domains</span><span class="bd" style="background:rgba(0,0,0,.32);color:#ffffff">1</span></div><div class="cd" style="left:300.00px;top:344.50px;width:159.00px;height:31.50px;background:#e65100;border-color:#f26218;box-shadow:inset 3px 0 0 #a83c00;border-radius:6.5px;"><span class="ids" style="color:rgba(255,240,230,.45)">T1583.002</span><span class="nm" style="left:56.50px;color:#ffffff">DNS Server</span><span class="bd" style="background:rgba(0,0,0,.32);color:#ffffff">1</span></div><div class="cd" style="left:300.00px;top:378.40px;width:159.00px;height:38.20px;background:#e65100;border-color:#f26218;box-shadow:inset 3px 0 0 #a83c00;border-radius:6.5px;"><span class="ids" style="color:rgba(255,240,230,.45)">T1583.003</span><span class="nm" style="left:56.50px;color:#ffffff">Virtual Private<br>Server</span><span class="bd" style="background:rgba(0,0,0,.32);color:#ffffff">1</span></div><div class="cd" style="left:300.00px;top:419.00px;width:159.00px;height:31.50px;background:#e65100;border-color:#f26218;box-shadow:inset 3px 0 0 #a83c00;border-radius:6.5px;"><span class="ids" style="color:rgba(255,240,230,.45)">T1583.004</span><span class="nm" style="left:56.50px;color:#ffffff">Server</span><span class="bd" style="background:rgba(0,0,0,.32);color:#ffffff">1</span></div><div class="cd" style="left:300.00px;top:452.90px;width:159.00px;height:31.50px;background:#e65100;border-color:#f26218;box-shadow:inset 3px 0 0 #a83c00;border-radius:6.5px;"><span class="ids" style="color:rgba(255,240,230,.45)">T1583.005</span><span class="nm" style="left:56.50px;color:#ffffff">Botnet</span><span class="bd" style="background:rgba(0,0,0,.32);color:#ffffff">1</span></div><div class="cd" style="left:300.00px;top:486.80px;width:159.00px;height:31.50px;background:#e65100;border-color:#f26218;box-shadow:inset 3px 0 0 #a83c00;border-radius:6.5px;"><span class="ids" style="color:rgba(255,240,230,.45)">T1583.006</span><span class="nm" style="left:56.50px;color:#ffffff">Web Services</span><span class="bd" style="background:rgba(0,0,0,.32);color:#ffffff">1</span></div><div class="cd" style="left:300.00px;top:520.70px;width:159.00px;height:31.50px;background:#e65100;border-color:#f26218;box-shadow:inset 3px 0 0 #a83c00;border-radius:6.5px;"><span class="ids" style="color:rgba(255,240,230,.45)">T1583.007</span><span class="nm" style="left:56.50px;color:#ffffff">Serverless</span><span class="bd" style="background:rgba(0,0,0,.32);color:#ffffff">1</span></div><div class="cd" style="left:300.00px;top:554.60px;width:159.00px;height:31.50px;background:#e65100;border-color:#f26218;box-shadow:inset 3px 0 0 #a83c00;border-radius:6.5px;"><span class="ids" style="color:rgba(255,240,230,.45)">T1583.008</span><span class="nm" style="left:56.50px;color:#ffffff">Malvertising</span><span class="bd" style="background:rgba(0,0,0,.32);color:#ffffff">1</span></div><div class="vl" style="left:294px;top:310.60px;height:275.50px"></div><div class="pill" style="left:280px;top:589.70px;width:16px"><i></i><b>8</b></div><div class="cd" style="left:300.00px;top:589.70px;width:159.00px;height:38.20px;background:#e65100;border-color:#f26218;"><span class="idp" style="color:rgba(255,255,255,.72)">T1584</span><span class="nm" style="left:39.10px;color:#ffffff">Compromise<br>Infrastructure</span><span class="bd" style="background:rgba(0,0,0,.32);color:#ffffff">1</span></div><div class="cd" style="left:300.00px;top:630.30px;width:159.00px;height:31.50px;background:#e65100;border-color:#f26218;box-shadow:inset 3px 0 0 #a83c00;border-radius:6.5px;"><span class="ids" style="color:rgba(255,240,230,.45)">T1584.001</span><span class="nm" style="left:56.50px;color:#ffffff">Domains</span><span class="bd" style="background:rgba(0,0,0,.32);color:#ffffff">1</span></div><div class="cd" style="left:300.00px;top:664.20px;width:159.00px;height:31.50px;background:#e65100;border-color:#f26218;box-shadow:inset 3px 0 0 #a83c00;border-radius:6.5px;"><span class="ids" style="color:rgba(255,240,230,.45)">T1584.002</span><span class="nm" style="left:56.50px;color:#ffffff">DNS Server</span><span class="bd" style="background:rgba(0,0,0,.32);color:#ffffff">1</span></div><div class="cd" style="left:300.00px;top:698.10px;width:159.00px;height:38.20px;background:#e65100;border-color:#f26218;box-shadow:inset 3px 0 0 #a83c00;border-radius:6.5px;"><span class="ids" style="color:rgba(255,240,230,.45)">T1584.003</span><span class="nm" style="left:56.50px;color:#ffffff">Virtual Private<br>Server</span><span class="bd" style="background:rgba(0,0,0,.32);color:#ffffff">1</span></div><div class="cd" style="left:300.00px;top:738.70px;width:159.00px;height:31.50px;background:#e65100;border-color:#f26218;box-shadow:inset 3px 0 0 #a83c00;border-radius:6.5px;"><span class="ids" style="color:rgba(255,240,230,.45)">T1584.004</span><span class="nm" style="left:56.50px;color:#ffffff">Server</span><span class="bd" style="background:rgba(0,0,0,.32);color:#ffffff">1</span></div><div class="cd" style="left:300.00px;top:772.60px;width:159.00px;height:31.50px;background:#e65100;border-color:#f26218;box-shadow:inset 3px 0 0 #a83c00;border-radius:6.5px;"><span class="ids" style="color:rgba(255,240,230,.45)">T1584.005</span><span class="nm" style="left:56.50px;color:#ffffff">Botnet</span><span class="bd" style="background:rgba(0,0,0,.32);color:#ffffff">1</span></div><div class="cd" style="left:300.00px;top:806.50px;width:159.00px;height:31.50px;background:#e65100;border-color:#f26218;box-shadow:inset 3px 0 0 #a83c00;border-radius:6.5px;"><span class="ids" style="color:rgba(255,240,230,.45)">T1584.006</span><span class="nm" style="left:56.50px;color:#ffffff">Web Services</span><span class="bd" style="background:rgba(0,0,0,.32);color:#ffffff">1</span></div><div class="cd" style="left:300.00px;top:840.40px;width:159.00px;height:31.50px;background:#e65100;border-color:#f26218;box-shadow:inset 3px 0 0 #a83c00;border-radius:6.5px;"><span class="ids" style="color:rgba(255,240,230,.45)">T1584.007</span><span class="nm" style="left:56.50px;color:#ffffff">Serverless</span><span class="bd" style="background:rgba(0,0,0,.32);color:#ffffff">1</span></div><div class="cd" style="left:300.00px;top:874.30px;width:159.00px;height:38.20px;background:#e65100;border-color:#f26218;box-shadow:inset 3px 0 0 #a83c00;border-radius:6.5px;"><span class="ids" style="color:rgba(255,240,230,.45)">T1584.008</span><span class="nm" style="left:56.50px;color:#ffffff">Network<br>Devices</span><span class="bd" style="background:rgba(0,0,0,.32);color:#ffffff">1</span></div><div class="vl" style="left:294px;top:630.30px;height:282.20px"></div><div class="pill" style="left:280px;top:916.10px;width:16px"><i></i><b>3</b></div><div class="cd" style="left:300.00px;top:916.10px;width:159.00px;height:38.20px;background:#e65100;border-color:#f26218;"><span class="idp" style="color:rgba(255,255,255,.72)">T1585</span><span class="nm" style="left:39.10px;color:#ffffff">Establish<br>Accounts</span><span class="bd" style="background:rgba(0,0,0,.32);color:#ffffff">1</span></div><div class="cd" style="left:300.00px;top:956.70px;width:159.00px;height:38.20px;background:#e65100;border-color:#f26218;box-shadow:inset 3px 0 0 #a83c00;border-radius:6.5px;"><span class="ids" style="color:rgba(255,240,230,.45)">T1585.001</span><span class="nm" style="left:56.50px;color:#ffffff">Social Media<br>Accounts</span><span class="bd" style="background:rgba(0,0,0,.32);color:#ffffff">1</span></div><div class="cd" style="left:300.00px;top:997.30px;width:159.00px;height:31.50px;background:#e65100;border-color:#f26218;box-shadow:inset 3px 0 0 #a83c00;border-radius:6.5px;"><span class="ids" style="color:rgba(255,240,230,.45)">T1585.002</span><span class="nm" style="left:56.50px;color:#ffffff">Email Accounts</span><span class="bd" style="background:rgba(0,0,0,.32);color:#ffffff">1</span></div><div class="cd" style="left:300.00px;top:1031.20px;width:159.00px;height:31.50px;background:#e65100;border-color:#f26218;box-shadow:inset 3px 0 0 #a83c00;border-radius:6.5px;"><span class="ids" style="color:rgba(255,240,230,.45)">T1585.003</span><span class="nm" style="left:56.50px;color:#ffffff">Cloud Accounts</span><span class="bd" style="background:rgba(0,0,0,.32);color:#ffffff">1</span></div><div class="vl" style="left:294px;top:956.70px;height:106.00px"></div><div class="pill" style="left:471px;top:270.00px;width:16px"><i></i><b>4</b></div><div class="cd" style="left:491.00px;top:270.00px;width:158.00px;height:31.50px;background:#1b5e20;border-color:#256b2a;"><span class="idp" style="color:rgba(255,255,255,.72)">T1078</span><span class="nm" style="left:39.10px;color:#ffffff">Valid Accounts</span><span class="bd" style="background:rgba(0,0,0,.28);color:#ffffff">8</span></div><div class="cd" style="left:491.00px;top:303.90px;width:158.00px;height:38.20px;background:#f9a825;border-color:#fbb23c;box-shadow:inset 3px 0 0 #c4821a;border-radius:6.5px;"><span class="ids" style="color:rgba(80,50,0,.42)">T1078.001</span><span class="nm" style="left:56.50px;color:#3a2f18">Default<br>Accounts</span><span class="bd" style="background:rgba(60,40,0,.35);color:#33280f">2</span></div><div class="cd" style="left:491.00px;top:344.50px;width:158.00px;height:38.20px;background:#1b5e20;border-color:#256b2a;box-shadow:inset 3px 0 0 #12451a;border-radius:6.5px;"><span class="ids" style="color:rgba(255,240,230,.45)">T1078.002</span><span class="nm" style="left:56.50px;color:#ffffff">Domain<br>Accounts</span><span class="bd" style="background:rgba(0,0,0,.28);color:#ffffff">5</span></div><div class="cd" style="left:491.00px;top:385.10px;width:158.00px;height:38.20px;background:#1b5e20;border-color:#256b2a;box-shadow:inset 3px 0 0 #12451a;border-radius:6.5px;"><span class="ids" style="color:rgba(255,240,230,.45)">T1078.003</span><span class="nm" style="left:56.50px;color:#ffffff">Local<br>Accounts</span><span class="bd" style="background:rgba(0,0,0,.28);color:#ffffff">4</span></div><div class="cd" style="left:491.00px;top:425.70px;width:158.00px;height:38.20px;background:#1b5e20;border-color:#256b2a;box-shadow:inset 3px 0 0 #12451a;border-radius:6.5px;"><span class="ids" style="color:rgba(255,240,230,.45)">T1078.004</span><span class="nm" style="left:56.50px;color:#ffffff">Cloud<br>Accounts</span><span class="bd" style="background:rgba(0,0,0,.28);color:#ffffff">7</span></div><div class="vl" style="left:485px;top:303.90px;height:160.00px"></div><div class="cd" style="left:471.00px;top:467.50px;width:178.00px;height:38.20px;background:#558b2f;border-color:#639a3a;"><span class="idp" style="color:rgba(255,255,255,.72)">T1091</span><span class="nm" style="left:39.10px;color:#ffffff">Replication Through<br>Removable Media</span><span class="bd" style="background:rgba(0,0,0,.28);color:#ffffff">3</span></div><div class="cd" style="left:471.00px;top:509.30px;width:178.00px;height:38.20px;background:#1b5e20;border-color:#256b2a;"><span class="idp" style="color:rgba(255,255,255,.72)">T1133</span><span class="nm" style="left:39.10px;color:#ffffff">External Remote<br>Services</span><span class="bd" style="background:rgba(0,0,0,.28);color:#ffffff">5</span></div><div class="cd" style="left:471.00px;top:551.10px;width:178.00px;height:31.50px;background:#1b5e20;border-color:#256b2a;"><span class="idp" style="color:rgba(255,255,255,.72)">T1189</span><span class="nm" style="left:39.10px;color:#ffffff">Drive-by Compromise</span><span class="bd" style="background:rgba(0,0,0,.28);color:#ffffff">5</span></div><div class="cd" style="left:471.00px;top:586.20px;width:178.00px;height:38.20px;background:#1b5e20;border-color:#256b2a;"><span class="idp" style="color:rgba(255,255,255,.72)">T1190</span><span class="nm" style="left:39.10px;color:#ffffff">Exploit Public-Facing<br>Application</span><span class="bd" style="background:rgba(0,0,0,.28);color:#ffffff">8</span></div><div class="pill" style="left:471px;top:628.00px;width:16px"><i></i><b>3</b></div><div class="cd" style="left:491.00px;top:628.00px;width:158.00px;height:38.20px;background:#1b5e20;border-color:#256b2a;"><span class="idp" style="color:rgba(255,255,255,.72)">T1195</span><span class="nm" style="left:39.10px;color:#ffffff">Supply Chain<br>Compromise</span><span class="bd" style="background:rgba(0,0,0,.28);color:#ffffff">6</span></div><div class="cd" style="left:491.00px;top:668.60px;width:158.00px;height:38.20px;background:#1b5e20;border-color:#256b2a;box-shadow:inset 3px 0 0 #12451a;border-radius:6.5px;"><span class="ids" style="color:rgba(255,240,230,.45)">T1195.001</span><span class="nm" style="left:56.50px;color:#ffffff">Compromise<br>Software...</span><span class="bd" style="background:rgba(0,0,0,.28);color:#ffffff">4</span></div><div class="cd" style="left:491.00px;top:709.20px;width:158.00px;height:38.20px;background:#f9a825;border-color:#fbb23c;box-shadow:inset 3px 0 0 #c4821a;border-radius:6.5px;"><span class="ids" style="color:rgba(80,50,0,.42)">T1195.002</span><span class="nm" style="left:56.50px;color:#3a2f18">Compromise<br>Software...</span><span class="bd" style="background:rgba(60,40,0,.35);color:#33280f">2</span></div><div class="cd" style="left:491.00px;top:749.80px;width:158.00px;height:38.20px;background:#e65100;border-color:#f26218;box-shadow:inset 3px 0 0 #a83c00;border-radius:6.5px;"><span class="ids" style="color:rgba(255,240,230,.45)">T1195.003</span><span class="nm" style="left:56.50px;color:#ffffff">Compromise<br>Hardware...</span><span class="bd" style="background:rgba(0,0,0,.32);color:#ffffff">1</span></div><div class="vl" style="left:485px;top:668.60px;height:119.40px"></div><div class="cd" style="left:471.00px;top:791.60px;width:178.00px;height:31.50px;background:#558b2f;border-color:#639a3a;"><span class="idp" style="color:rgba(255,255,255,.72)">T1199</span><span class="nm" style="left:39.10px;color:#ffffff">Trusted Relationship</span><span class="bd" style="background:rgba(0,0,0,.28);color:#ffffff">3</span></div><div class="cd" style="left:471.00px;top:826.70px;width:178.00px;height:31.50px;background:#f9a825;border-color:#fbb23c;"><span class="idp" style="color:rgba(60,40,5,.62)">T1200</span><span class="nm" style="left:39.10px;color:#3a2f18">Hardware Additions</span><span class="bd" style="background:rgba(60,40,0,.35);color:#33280f">2</span></div><div class="pill" style="left:471px;top:861.80px;width:16px"><i></i><b>4</b></div><div class="cd" style="left:491.00px;top:861.80px;width:158.00px;height:31.50px;background:#1b5e20;border-color:#256b2a;"><span class="idp" style="color:rgba(255,255,255,.72)">T1566</span><span class="nm" style="left:39.10px;color:#ffffff">Phishing</span><span class="bd" style="background:rgba(0,0,0,.28);color:#ffffff">6</span></div><div class="cd" style="left:491.00px;top:895.70px;width:158.00px;height:38.20px;background:#1b5e20;border-color:#256b2a;box-shadow:inset 3px 0 0 #12451a;border-radius:6.5px;"><span class="ids" style="color:rgba(255,240,230,.45)">T1566.001</span><span class="nm" style="left:56.50px;color:#ffffff">Spearphishing<br>Attachment</span><span class="bd" style="background:rgba(0,0,0,.28);color:#ffffff">7</span></div><div class="cd" style="left:491.00px;top:936.30px;width:158.00px;height:38.20px;background:#1b5e20;border-color:#256b2a;box-shadow:inset 3px 0 0 #12451a;border-radius:6.5px;"><span class="ids" style="color:rgba(255,240,230,.45)">T1566.002</span><span class="nm" style="left:56.50px;color:#ffffff">Spearphishing<br>Link</span><span class="bd" style="background:rgba(0,0,0,.28);color:#ffffff">5</span></div><div class="cd" style="left:491.00px;top:976.90px;width:158.00px;height:38.20px;background:#1b5e20;border-color:#256b2a;box-shadow:inset 3px 0 0 #12451a;border-radius:6.5px;"><span class="ids" style="color:rgba(255,240,230,.45)">T1566.003</span><span class="nm" style="left:56.50px;color:#ffffff">Spearphishing via<br>Service</span><span class="bd" style="background:rgba(0,0,0,.28);color:#ffffff">4</span></div><div class="cd" style="left:491.00px;top:1017.50px;width:158.00px;height:38.20px;background:#1b5e20;border-color:#256b2a;box-shadow:inset 3px 0 0 #12451a;border-radius:6.5px;"><span class="ids" style="color:rgba(255,240,230,.45)">T1566.004</span><span class="nm" style="left:56.50px;color:#ffffff">Spearphishing<br>Voice</span><span class="bd" style="background:rgba(0,0,0,.28);color:#ffffff">4</span></div><div class="vl" style="left:485px;top:895.70px;height:160.00px"></div><div class="cd" style="left:661.00px;top:270.00px;width:175.00px;height:38.20px;background:#1b5e20;border-color:#256b2a;"><span class="idp" style="color:rgba(255,255,255,.72)">T1047</span><span class="nm" style="left:39.10px;color:#ffffff">Windows<br>Management...</span><span class="bd" style="background:rgba(0,0,0,.28);color:#ffffff">4</span></div><div class="pill" style="left:661px;top:311.80px;width:16px"><i></i><b>5</b></div><div class="cd" style="left:681.00px;top:311.80px;width:155.00px;height:38.20px;background:#1b5e20;border-color:#256b2a;"><span class="idp" style="color:rgba(255,255,255,.72)">T1053</span><span class="nm" style="left:39.10px;color:#ffffff">Scheduled<br>Task/Job</span><span class="bd" style="background:rgba(0,0,0,.28);color:#ffffff">5</span></div><div class="cd" style="left:681.00px;top:352.40px;width:155.00px;height:31.50px;background:#1b5e20;border-color:#256b2a;box-shadow:inset 3px 0 0 #12451a;border-radius:6.5px;"><span class="ids" style="color:rgba(255,240,230,.45)">T1053.002</span><span class="nm" style="left:56.50px;color:#ffffff">At</span><span class="bd" style="background:rgba(0,0,0,.28);color:#ffffff">4</span></div><div class="cd" style="left:681.00px;top:386.30px;width:155.00px;height:31.50px;background:#f9a825;border-color:#fbb23c;box-shadow:inset 3px 0 0 #c4821a;border-radius:6.5px;"><span class="ids" style="color:rgba(80,50,0,.42)">T1053.003</span><span class="nm" style="left:56.50px;color:#3a2f18">Cron</span><span class="bd" style="background:rgba(60,40,0,.35);color:#33280f">2</span></div><div class="cd" style="left:681.00px;top:420.20px;width:155.00px;height:38.20px;background:#1b5e20;border-color:#256b2a;box-shadow:inset 3px 0 0 #12451a;border-radius:6.5px;"><span class="ids" style="color:rgba(255,240,230,.45)">T1053.005</span><span class="nm" style="left:56.50px;color:#ffffff">Scheduled<br>Task</span><span class="bd" style="background:rgba(0,0,0,.28);color:#ffffff">4</span></div><div class="cd" style="left:681.00px;top:460.80px;width:155.00px;height:38.20px;background:#558b2f;border-color:#639a3a;box-shadow:inset 3px 0 0 #3f6a22;border-radius:6.5px;"><span class="ids" style="color:rgba(255,240,230,.45)">T1053.006</span><span class="nm" style="left:56.50px;color:#ffffff">Systemd<br>Timers</span><span class="bd" style="background:rgba(0,0,0,.28);color:#ffffff">3</span></div><div class="cd" style="left:681.00px;top:501.40px;width:155.00px;height:38.20px;background:#f9a825;border-color:#fbb23c;box-shadow:inset 3px 0 0 #c4821a;border-radius:6.5px;"><span class="ids" style="color:rgba(80,50,0,.42)">T1053.007</span><span class="nm" style="left:56.50px;color:#3a2f18">Container<br>Orchestrati...</span><span class="bd" style="background:rgba(60,40,0,.35);color:#33280f">2</span></div><div class="vl" style="left:675px;top:352.40px;height:187.20px"></div><div class="pill" style="left:661px;top:543.20px;width:18px"><i></i><b>13</b></div><div class="cd" style="left:683.00px;top:543.20px;width:153.00px;height:38.20px;background:#1b5e20;border-color:#256b2a;"><span class="idp" style="color:rgba(255,255,255,.72)">T1059</span><span class="nm" style="left:39.10px;color:#ffffff">Command and<br>Scripting...</span><span class="bd" style="background:rgba(0,0,0,.28);color:#ffffff">9</span></div><div class="cd" style="left:681.00px;top:583.80px;width:155.00px;height:31.50px;background:#1b5e20;border-color:#256b2a;box-shadow:inset 3px 0 0 #12451a;border-radius:6.5px;"><span class="ids" style="color:rgba(255,240,230,.45)">T1059.001</span><span class="nm" style="left:56.50px;color:#ffffff">PowerShell</span><span class="bd" style="background:rgba(0,0,0,.28);color:#ffffff">5</span></div><div class="cd" style="left:681.00px;top:617.70px;width:155.00px;height:31.50px;background:#f9a825;border-color:#fbb23c;box-shadow:inset 3px 0 0 #c4821a;border-radius:6.5px;"><span class="ids" style="color:rgba(80,50,0,.42)">T1059.002</span><span class="nm" style="left:56.50px;color:#3a2f18">AppleScript</span><span class="bd" style="background:rgba(60,40,0,.35);color:#33280f">2</span></div><div class="cd" style="left:681.00px;top:651.60px;width:155.00px;height:38.20px;background:#e65100;border-color:#f26218;box-shadow:inset 3px 0 0 #a83c00;border-radius:6.5px;"><span class="ids" style="color:rgba(255,240,230,.45)">T1059.003</span><span class="nm" style="left:56.50px;color:#ffffff">Windows<br>Command...</span><span class="bd" style="background:rgba(0,0,0,.32);color:#ffffff">1</span></div><div class="cd" style="left:681.00px;top:692.20px;width:155.00px;height:31.50px;background:#e65100;border-color:#f26218;box-shadow:inset 3px 0 0 #a83c00;border-radius:6.5px;"><span class="ids" style="color:rgba(255,240,230,.45)">T1059.004</span><span class="nm" style="left:56.50px;color:#ffffff">Unix Shell</span><span class="bd" style="background:rgba(0,0,0,.32);color:#ffffff">1</span></div><div class="cd" style="left:681.00px;top:726.10px;width:155.00px;height:31.50px;background:#1b5e20;border-color:#256b2a;box-shadow:inset 3px 0 0 #12451a;border-radius:6.5px;"><span class="ids" style="color:rgba(255,240,230,.45)">T1059.005</span><span class="nm" style="left:56.50px;color:#ffffff">Visual Basic</span><span class="bd" style="background:rgba(0,0,0,.28);color:#ffffff">5</span></div><div class="cd" style="left:681.00px;top:760.00px;width:155.00px;height:31.50px;background:#1b5e20;border-color:#256b2a;box-shadow:inset 3px 0 0 #12451a;border-radius:6.5px;"><span class="ids" style="color:rgba(255,240,230,.45)">T1059.006</span><span class="nm" style="left:56.50px;color:#ffffff">Python</span><span class="bd" style="background:rgba(0,0,0,.28);color:#ffffff">4</span></div><div class="cd" style="left:681.00px;top:793.90px;width:155.00px;height:31.50px;background:#1b5e20;border-color:#256b2a;box-shadow:inset 3px 0 0 #12451a;border-radius:6.5px;"><span class="ids" style="color:rgba(255,240,230,.45)">T1059.007</span><span class="nm" style="left:56.50px;color:#ffffff">JavaScript</span><span class="bd" style="background:rgba(0,0,0,.28);color:#ffffff">4</span></div><div class="cd" style="left:681.00px;top:827.80px;width:155.00px;height:38.20px;background:#558b2f;border-color:#639a3a;box-shadow:inset 3px 0 0 #3f6a22;border-radius:6.5px;"><span class="ids" style="color:rgba(255,240,230,.45)">T1059.008</span><span class="nm" style="left:56.50px;color:#ffffff">Network<br>Device CLI</span><span class="bd" style="background:rgba(0,0,0,.28);color:#ffffff">3</span></div><div class="cd" style="left:681.00px;top:868.40px;width:155.00px;height:31.50px;background:#f9a825;border-color:#fbb23c;box-shadow:inset 3px 0 0 #c4821a;border-radius:6.5px;"><span class="ids" style="color:rgba(80,50,0,.42)">T1059.009</span><span class="nm" style="left:56.50px;color:#3a2f18">Cloud API</span><span class="bd" style="background:rgba(60,40,0,.35);color:#33280f">2</span></div><div class="cd" style="left:681.00px;top:902.30px;width:155.00px;height:38.20px;background:#e65100;border-color:#f26218;box-shadow:inset 3px 0 0 #a83c00;border-radius:6.5px;"><span class="ids" style="color:rgba(255,240,230,.45)">T1059.010</span><span class="nm" style="left:56.50px;color:#ffffff">AutoHotKey<br>&amp; AutoIT</span><span class="bd" style="background:rgba(0,0,0,.32);color:#ffffff">1</span></div><div class="cd" style="left:681.00px;top:942.90px;width:155.00px;height:31.50px;background:#558b2f;border-color:#639a3a;box-shadow:inset 3px 0 0 #3f6a22;border-radius:6.5px;"><span class="ids" style="color:rgba(255,240,230,.45)">T1059.011</span><span class="nm" style="left:56.50px;color:#ffffff">Lua</span><span class="bd" style="background:rgba(0,0,0,.28);color:#ffffff">3</span></div><div class="cd" style="left:681.00px;top:976.80px;width:155.00px;height:31.50px;background:#d32f2f;border-color:#de4545;box-shadow:inset 3px 0 0 #a32020;border-radius:6.5px;"><span class="ids" style="color:rgba(255,240,230,.45)">T1059.012</span><span class="nm" style="left:56.50px;color:#ffffff">Hypervisor CLI</span><span class="bd" style="background:rgba(0,0,0,.30);color:#ffffff">0</span></div><div class="cd" style="left:681.00px;top:1010.70px;width:155.00px;height:31.50px;background:#f9a825;border-color:#fbb23c;box-shadow:inset 3px 0 0 #c4821a;border-radius:6.5px;"><span class="ids" style="color:rgba(80,50,0,.42)">T1059.013</span><span class="nm" style="left:56.50px;color:#3a2f18">Container CLI/API</span><span class="bd" style="background:rgba(60,40,0,.35);color:#33280f">2</span></div><div class="vl" style="left:675px;top:583.80px;height:458.40px"></div><div class="pill" style="left:847px;top:270.00px;width:16px"><i></i><b>5</b></div><div class="cd" style="left:867.00px;top:270.00px;width:190.00px;height:38.20px;background:#f9a825;border-color:#fbb23c;"><span class="idp" style="color:rgba(60,40,5,.62)">T1037</span><span class="nm" style="left:39.10px;color:#3a2f18">Boot or Logon<br>Initialization Scripts</span><span class="bd" style="background:rgba(60,40,0,.35);color:#33280f">2</span></div><div class="cd" style="left:867.00px;top:310.60px;width:190.00px;height:38.20px;background:#e65100;border-color:#f26218;box-shadow:inset 3px 0 0 #a83c00;border-radius:6.5px;"><span class="ids" style="color:rgba(255,240,230,.45)">T1037.001</span><span class="nm" style="left:56.50px;color:#ffffff">Logon Script<br>(Windows)</span><span class="bd" style="background:rgba(0,0,0,.32);color:#ffffff">1</span></div><div class="cd" style="left:867.00px;top:351.20px;width:190.00px;height:31.50px;background:#e65100;border-color:#f26218;box-shadow:inset 3px 0 0 #a83c00;border-radius:6.5px;"><span class="ids" style="color:rgba(255,240,230,.45)">T1037.002</span><span class="nm" style="left:56.50px;color:#ffffff">Login Hook</span><span class="bd" style="background:rgba(0,0,0,.32);color:#ffffff">1</span></div><div class="cd" style="left:867.00px;top:385.10px;width:190.00px;height:38.20px;background:#e65100;border-color:#f26218;box-shadow:inset 3px 0 0 #a83c00;border-radius:6.5px;"><span class="ids" style="color:rgba(255,240,230,.45)">T1037.003</span><span class="nm" style="left:56.50px;color:#ffffff">Network Logon<br>Script</span><span class="bd" style="background:rgba(0,0,0,.32);color:#ffffff">1</span></div><div class="cd" style="left:867.00px;top:425.70px;width:190.00px;height:31.50px;background:#e65100;border-color:#f26218;box-shadow:inset 3px 0 0 #a83c00;border-radius:6.5px;"><span class="ids" style="color:rgba(255,240,230,.45)">T1037.004</span><span class="nm" style="left:56.50px;color:#ffffff">RC Scripts</span><span class="bd" style="background:rgba(0,0,0,.32);color:#ffffff">1</span></div><div class="cd" style="left:867.00px;top:459.60px;width:190.00px;height:31.50px;background:#e65100;border-color:#f26218;box-shadow:inset 3px 0 0 #a83c00;border-radius:6.5px;"><span class="ids" style="color:rgba(255,240,230,.45)">T1037.005</span><span class="nm" style="left:56.50px;color:#ffffff">Startup Items</span><span class="bd" style="background:rgba(0,0,0,.32);color:#ffffff">1</span></div><div class="vl" style="left:861px;top:310.60px;height:180.50px"></div><div class="pill" style="left:847px;top:494.70px;width:16px"><i></i><b>5</b></div><div class="cd" style="left:867.00px;top:494.70px;width:190.00px;height:31.50px;background:#1b5e20;border-color:#256b2a;"><span class="idp" style="color:rgba(255,255,255,.72)">T1053</span><span class="nm" style="left:39.10px;color:#ffffff">Scheduled Task/Job</span><span class="bd" style="background:rgba(0,0,0,.28);color:#ffffff">5</span></div><div class="cd" style="left:867.00px;top:528.60px;width:190.00px;height:31.50px;background:#1b5e20;border-color:#256b2a;box-shadow:inset 3px 0 0 #12451a;border-radius:6.5px;"><span class="ids" style="color:rgba(255,240,230,.45)">T1053.002</span><span class="nm" style="left:56.50px;color:#ffffff">At</span><span class="bd" style="background:rgba(0,0,0,.28);color:#ffffff">4</span></div><div class="cd" style="left:867.00px;top:562.50px;width:190.00px;height:31.50px;background:#f9a825;border-color:#fbb23c;box-shadow:inset 3px 0 0 #c4821a;border-radius:6.5px;"><span class="ids" style="color:rgba(80,50,0,.42)">T1053.003</span><span class="nm" style="left:56.50px;color:#3a2f18">Cron</span><span class="bd" style="background:rgba(60,40,0,.35);color:#33280f">2</span></div><div class="cd" style="left:867.00px;top:596.40px;width:190.00px;height:31.50px;background:#1b5e20;border-color:#256b2a;box-shadow:inset 3px 0 0 #12451a;border-radius:6.5px;"><span class="ids" style="color:rgba(255,240,230,.45)">T1053.005</span><span class="nm" style="left:56.50px;color:#ffffff">Scheduled Task</span><span class="bd" style="background:rgba(0,0,0,.28);color:#ffffff">4</span></div><div class="cd" style="left:867.00px;top:630.30px;width:190.00px;height:31.50px;background:#558b2f;border-color:#639a3a;box-shadow:inset 3px 0 0 #3f6a22;border-radius:6.5px;"><span class="ids" style="color:rgba(255,240,230,.45)">T1053.006</span><span class="nm" style="left:56.50px;color:#ffffff">Systemd Timers</span><span class="bd" style="background:rgba(0,0,0,.28);color:#ffffff">3</span></div><div class="cd" style="left:867.00px;top:664.20px;width:190.00px;height:38.20px;background:#f9a825;border-color:#fbb23c;box-shadow:inset 3px 0 0 #c4821a;border-radius:6.5px;"><span class="ids" style="color:rgba(80,50,0,.42)">T1053.007</span><span class="nm" style="left:56.50px;color:#3a2f18">Container<br>Orchestration Job</span><span class="bd" style="background:rgba(60,40,0,.35);color:#33280f">2</span></div><div class="vl" style="left:861px;top:528.60px;height:173.80px"></div><div class="pill" style="left:847px;top:706.00px;width:16px"><i></i><b>4</b></div><div class="cd" style="left:867.00px;top:706.00px;width:190.00px;height:31.50px;background:#1b5e20;border-color:#256b2a;"><span class="idp" style="color:rgba(255,255,255,.72)">T1078</span><span class="nm" style="left:39.10px;color:#ffffff">Valid Accounts</span><span class="bd" style="background:rgba(0,0,0,.28);color:#ffffff">8</span></div><div class="cd" style="left:867.00px;top:739.90px;width:190.00px;height:31.50px;background:#f9a825;border-color:#fbb23c;box-shadow:inset 3px 0 0 #c4821a;border-radius:6.5px;"><span class="ids" style="color:rgba(80,50,0,.42)">T1078.001</span><span class="nm" style="left:56.50px;color:#3a2f18">Default Accounts</span><span class="bd" style="background:rgba(60,40,0,.35);color:#33280f">2</span></div><div class="cd" style="left:867.00px;top:773.80px;width:190.00px;height:31.50px;background:#1b5e20;border-color:#256b2a;box-shadow:inset 3px 0 0 #12451a;border-radius:6.5px;"><span class="ids" style="color:rgba(255,240,230,.45)">T1078.002</span><span class="nm" style="left:56.50px;color:#ffffff">Domain Accounts</span><span class="bd" style="background:rgba(0,0,0,.28);color:#ffffff">5</span></div><div class="cd" style="left:867.00px;top:807.70px;width:190.00px;height:31.50px;background:#1b5e20;border-color:#256b2a;box-shadow:inset 3px 0 0 #12451a;border-radius:6.5px;"><span class="ids" style="color:rgba(255,240,230,.45)">T1078.003</span><span class="nm" style="left:56.50px;color:#ffffff">Local Accounts</span><span class="bd" style="background:rgba(0,0,0,.28);color:#ffffff">4</span></div><div class="cd" style="left:867.00px;top:841.60px;width:190.00px;height:31.50px;background:#1b5e20;border-color:#256b2a;box-shadow:inset 3px 0 0 #12451a;border-radius:6.5px;"><span class="ids" style="color:rgba(255,240,230,.45)">T1078.004</span><span class="nm" style="left:56.50px;color:#ffffff">Cloud Accounts</span><span class="bd" style="background:rgba(0,0,0,.28);color:#ffffff">7</span></div><div class="vl" style="left:861px;top:739.90px;height:133.20px"></div><div class="pill" style="left:847px;top:876.70px;width:16px"><i></i><b>7</b></div><div class="cd" style="left:867.00px;top:876.70px;width:190.00px;height:31.50px;background:#1b5e20;border-color:#256b2a;"><span class="idp" style="color:rgba(255,255,255,.72)">T1098</span><span class="nm" style="left:39.10px;color:#ffffff">Account Manipulation</span><span class="bd" style="background:rgba(0,0,0,.28);color:#ffffff">7</span></div><div class="cd" style="left:867.00px;top:910.60px;width:190.00px;height:38.20px;background:#1b5e20;border-color:#256b2a;box-shadow:inset 3px 0 0 #12451a;border-radius:6.5px;"><span class="ids" style="color:rgba(255,240,230,.45)">T1098.001</span><span class="nm" style="left:56.50px;color:#ffffff">Additional Cloud<br>Credentials</span><span class="bd" style="background:rgba(0,0,0,.28);color:#ffffff">5</span></div><div class="cd" style="left:867.00px;top:951.20px;width:190.00px;height:38.20px;background:#558b2f;border-color:#639a3a;box-shadow:inset 3px 0 0 #3f6a22;border-radius:6.5px;"><span class="ids" style="color:rgba(255,240,230,.45)">T1098.002</span><span class="nm" style="left:56.50px;color:#ffffff">Additional Email<br>Delegate...</span><span class="bd" style="background:rgba(0,0,0,.28);color:#ffffff">3</span></div><div class="cd" style="left:867.00px;top:991.80px;width:190.00px;height:38.20px;background:#558b2f;border-color:#639a3a;box-shadow:inset 3px 0 0 #3f6a22;border-radius:6.5px;"><span class="ids" style="color:rgba(255,240,230,.45)">T1098.003</span><span class="nm" style="left:56.50px;color:#ffffff">Additional Cloud<br>Roles</span><span class="bd" style="background:rgba(0,0,0,.28);color:#ffffff">3</span></div><div class="vl" style="left:861px;top:910.60px;height:119.40px"></div><div class="pill" style="left:1069px;top:270.00px;width:16px"><i></i><b>5</b></div><div class="cd" style="left:1089.00px;top:270.00px;width:192.00px;height:38.20px;background:#f9a825;border-color:#fbb23c;"><span class="idp" style="color:rgba(60,40,5,.62)">T1037</span><span class="nm" style="left:39.10px;color:#3a2f18">Boot or Logon<br>Initialization Scripts</span><span class="bd" style="background:rgba(60,40,0,.35);color:#33280f">2</span></div><div class="cd" style="left:1089.00px;top:310.60px;width:192.00px;height:38.20px;background:#e65100;border-color:#f26218;box-shadow:inset 3px 0 0 #a83c00;border-radius:6.5px;"><span class="ids" style="color:rgba(255,240,230,.45)">T1037.001</span><span class="nm" style="left:56.50px;color:#ffffff">Logon Script<br>(Windows)</span><span class="bd" style="background:rgba(0,0,0,.32);color:#ffffff">1</span></div><div class="cd" style="left:1089.00px;top:351.20px;width:192.00px;height:31.50px;background:#e65100;border-color:#f26218;box-shadow:inset 3px 0 0 #a83c00;border-radius:6.5px;"><span class="ids" style="color:rgba(255,240,230,.45)">T1037.002</span><span class="nm" style="left:56.50px;color:#ffffff">Login Hook</span><span class="bd" style="background:rgba(0,0,0,.32);color:#ffffff">1</span></div><div class="cd" style="left:1089.00px;top:385.10px;width:192.00px;height:38.20px;background:#e65100;border-color:#f26218;box-shadow:inset 3px 0 0 #a83c00;border-radius:6.5px;"><span class="ids" style="color:rgba(255,240,230,.45)">T1037.003</span><span class="nm" style="left:56.50px;color:#ffffff">Network Logon<br>Script</span><span class="bd" style="background:rgba(0,0,0,.32);color:#ffffff">1</span></div><div class="cd" style="left:1089.00px;top:425.70px;width:192.00px;height:31.50px;background:#e65100;border-color:#f26218;box-shadow:inset 3px 0 0 #a83c00;border-radius:6.5px;"><span class="ids" style="color:rgba(255,240,230,.45)">T1037.004</span><span class="nm" style="left:56.50px;color:#ffffff">RC Scripts</span><span class="bd" style="background:rgba(0,0,0,.32);color:#ffffff">1</span></div><div class="cd" style="left:1089.00px;top:459.60px;width:192.00px;height:31.50px;background:#e65100;border-color:#f26218;box-shadow:inset 3px 0 0 #a83c00;border-radius:6.5px;"><span class="ids" style="color:rgba(255,240,230,.45)">T1037.005</span><span class="nm" style="left:56.50px;color:#ffffff">Startup Items</span><span class="bd" style="background:rgba(0,0,0,.32);color:#ffffff">1</span></div><div class="vl" style="left:1083px;top:310.60px;height:180.50px"></div><div class="pill" style="left:1069px;top:494.70px;width:16px"><i></i><b>5</b></div><div class="cd" style="left:1089.00px;top:494.70px;width:192.00px;height:31.50px;background:#1b5e20;border-color:#256b2a;"><span class="idp" style="color:rgba(255,255,255,.72)">T1053</span><span class="nm" style="left:39.10px;color:#ffffff">Scheduled Task/Job</span><span class="bd" style="background:rgba(0,0,0,.28);color:#ffffff">5</span></div><div class="cd" style="left:1089.00px;top:528.60px;width:192.00px;height:31.50px;background:#1b5e20;border-color:#256b2a;box-shadow:inset 3px 0 0 #12451a;border-radius:6.5px;"><span class="ids" style="color:rgba(255,240,230,.45)">T1053.002</span><span class="nm" style="left:56.50px;color:#ffffff">At</span><span class="bd" style="background:rgba(0,0,0,.28);color:#ffffff">4</span></div><div class="cd" style="left:1089.00px;top:562.50px;width:192.00px;height:31.50px;background:#f9a825;border-color:#fbb23c;box-shadow:inset 3px 0 0 #c4821a;border-radius:6.5px;"><span class="ids" style="color:rgba(80,50,0,.42)">T1053.003</span><span class="nm" style="left:56.50px;color:#3a2f18">Cron</span><span class="bd" style="background:rgba(60,40,0,.35);color:#33280f">2</span></div><div class="cd" style="left:1089.00px;top:596.40px;width:192.00px;height:31.50px;background:#1b5e20;border-color:#256b2a;box-shadow:inset 3px 0 0 #12451a;border-radius:6.5px;"><span class="ids" style="color:rgba(255,240,230,.45)">T1053.005</span><span class="nm" style="left:56.50px;color:#ffffff">Scheduled Task</span><span class="bd" style="background:rgba(0,0,0,.28);color:#ffffff">4</span></div><div class="cd" style="left:1089.00px;top:630.30px;width:192.00px;height:31.50px;background:#558b2f;border-color:#639a3a;box-shadow:inset 3px 0 0 #3f6a22;border-radius:6.5px;"><span class="ids" style="color:rgba(255,240,230,.45)">T1053.006</span><span class="nm" style="left:56.50px;color:#ffffff">Systemd Timers</span><span class="bd" style="background:rgba(0,0,0,.28);color:#ffffff">3</span></div><div class="cd" style="left:1089.00px;top:664.20px;width:192.00px;height:38.20px;background:#f9a825;border-color:#fbb23c;box-shadow:inset 3px 0 0 #c4821a;border-radius:6.5px;"><span class="ids" style="color:rgba(80,50,0,.42)">T1053.007</span><span class="nm" style="left:56.50px;color:#3a2f18">Container<br>Orchestration Job</span><span class="bd" style="background:rgba(60,40,0,.35);color:#33280f">2</span></div><div class="vl" style="left:1083px;top:528.60px;height:173.80px"></div><div class="pill" style="left:1069px;top:706.00px;width:18px"><i></i><b>12</b></div><div class="cd" style="left:1091.00px;top:706.00px;width:190.00px;height:31.50px;background:#f9a825;border-color:#fbb23c;"><span class="idp" style="color:rgba(60,40,5,.62)">T1055</span><span class="nm" style="left:39.10px;color:#3a2f18">Process Injection</span><span class="bd" style="background:rgba(60,40,0,.35);color:#33280f">2</span></div><div class="cd" style="left:1089.00px;top:739.90px;width:192.00px;height:38.20px;background:#e65100;border-color:#f26218;box-shadow:inset 3px 0 0 #a83c00;border-radius:6.5px;"><span class="ids" style="color:rgba(255,240,230,.45)">T1055.001</span><span class="nm" style="left:56.50px;color:#ffffff">Dynamic-link Library<br>Injection</span><span class="bd" style="background:rgba(0,0,0,.32);color:#ffffff">1</span></div><div class="cd" style="left:1089.00px;top:780.50px;width:192.00px;height:38.20px;background:#e65100;border-color:#f26218;box-shadow:inset 3px 0 0 #a83c00;border-radius:6.5px;"><span class="ids" style="color:rgba(255,240,230,.45)">T1055.002</span><span class="nm" style="left:56.50px;color:#ffffff">Portable Executable<br>Injection</span><span class="bd" style="background:rgba(0,0,0,.32);color:#ffffff">1</span></div><div class="cd" style="left:1089.00px;top:821.10px;width:192.00px;height:38.20px;background:#e65100;border-color:#f26218;box-shadow:inset 3px 0 0 #a83c00;border-radius:6.5px;"><span class="ids" style="color:rgba(255,240,230,.45)">T1055.003</span><span class="nm" style="left:56.50px;color:#ffffff">Thread Execution<br>Hijacking</span><span class="bd" style="background:rgba(0,0,0,.32);color:#ffffff">1</span></div><div class="cd" style="left:1089.00px;top:861.70px;width:192.00px;height:38.20px;background:#e65100;border-color:#f26218;box-shadow:inset 3px 0 0 #a83c00;border-radius:6.5px;"><span class="ids" style="color:rgba(255,240,230,.45)">T1055.004</span><span class="nm" style="left:56.50px;color:#ffffff">Asynchronous<br>Procedure Call</span><span class="bd" style="background:rgba(0,0,0,.32);color:#ffffff">1</span></div><div class="cd" style="left:1089.00px;top:902.30px;width:192.00px;height:31.50px;background:#e65100;border-color:#f26218;box-shadow:inset 3px 0 0 #a83c00;border-radius:6.5px;"><span class="ids" style="color:rgba(255,240,230,.45)">T1055.005</span><span class="nm" style="left:56.50px;color:#ffffff">Thread Local Storage</span><span class="bd" style="background:rgba(0,0,0,.32);color:#ffffff">1</span></div><div class="cd" style="left:1089.00px;top:936.20px;width:192.00px;height:31.50px;background:#f9a825;border-color:#fbb23c;box-shadow:inset 3px 0 0 #c4821a;border-radius:6.5px;"><span class="ids" style="color:rgba(80,50,0,.42)">T1055.008</span><span class="nm" style="left:56.50px;color:#3a2f18">Ptrace System Calls</span><span class="bd" style="background:rgba(60,40,0,.35);color:#33280f">2</span></div><div class="cd" style="left:1089.00px;top:970.10px;width:192.00px;height:31.50px;background:#f9a825;border-color:#fbb23c;box-shadow:inset 3px 0 0 #c4821a;border-radius:6.5px;"><span class="ids" style="color:rgba(80,50,0,.42)">T1055.009</span><span class="nm" style="left:56.50px;color:#3a2f18">Proc Memory</span><span class="bd" style="background:rgba(60,40,0,.35);color:#33280f">2</span></div><div class="cd" style="left:1089.00px;top:1004.00px;width:192.00px;height:38.20px;background:#e65100;border-color:#f26218;box-shadow:inset 3px 0 0 #a83c00;border-radius:6.5px;"><span class="ids" style="color:rgba(255,240,230,.45)">T1055.011</span><span class="nm" style="left:56.50px;color:#ffffff">Extra Window<br>Memory Injection</span><span class="bd" style="background:rgba(0,0,0,.32);color:#ffffff">1</span></div><div class="vl" style="left:1083px;top:739.90px;height:302.30px"></div><div class="cd" style="left:1293.00px;top:270.00px;width:243.00px;height:31.50px;background:#f9a825;border-color:#fbb23c;"><span class="idp" style="color:rgba(60,40,5,.62)">T1006</span><span class="nm" style="left:39.10px;color:#3a2f18">Direct Volume Access</span><span class="bd" style="background:rgba(60,40,0,.35);color:#33280f">2</span></div><div class="cd" style="left:1293.00px;top:305.10px;width:243.00px;height:31.50px;background:#d32f2f;border-color:#de4545;"><span class="idp" style="color:rgba(255,255,255,.72)">T1014</span><span class="nm" style="left:39.10px;color:#ffffff">Rootkit</span><span class="bd" style="background:rgba(0,0,0,.30);color:#ffffff">0</span></div><div class="pill" style="left:1293px;top:340.20px;width:18px"><i></i><b>17</b></div><div class="cd" style="left:1315.00px;top:340.20px;width:221.00px;height:38.20px;background:#1b5e20;border-color:#256b2a;"><span class="idp" style="color:rgba(255,255,255,.72)">T1027</span><span class="nm" style="left:39.10px;color:#ffffff">Obfuscated Files or<br>Information</span><span class="bd" style="background:rgba(0,0,0,.28);color:#ffffff">4</span></div><div class="cd" style="left:1313.00px;top:380.80px;width:223.00px;height:31.50px;background:#d32f2f;border-color:#de4545;box-shadow:inset 3px 0 0 #a32020;border-radius:6.5px;"><span class="ids" style="color:rgba(255,240,230,.45)">T1027.001</span><span class="nm" style="left:56.50px;color:#ffffff">Binary Padding</span><span class="bd" style="background:rgba(0,0,0,.30);color:#ffffff">0</span></div><div class="cd" style="left:1313.00px;top:414.70px;width:223.00px;height:31.50px;background:#e65100;border-color:#f26218;box-shadow:inset 3px 0 0 #a83c00;border-radius:6.5px;"><span class="ids" style="color:rgba(255,240,230,.45)">T1027.002</span><span class="nm" style="left:56.50px;color:#ffffff">Software Packing</span><span class="bd" style="background:rgba(0,0,0,.32);color:#ffffff">1</span></div><div class="cd" style="left:1313.00px;top:448.60px;width:223.00px;height:31.50px;background:#d32f2f;border-color:#de4545;box-shadow:inset 3px 0 0 #a32020;border-radius:6.5px;"><span class="ids" style="color:rgba(255,240,230,.45)">T1027.003</span><span class="nm" style="left:56.50px;color:#ffffff">Steganography</span><span class="bd" style="background:rgba(0,0,0,.30);color:#ffffff">0</span></div><div class="cd" style="left:1313.00px;top:482.50px;width:223.00px;height:31.50px;background:#d32f2f;border-color:#de4545;box-shadow:inset 3px 0 0 #a32020;border-radius:6.5px;"><span class="ids" style="color:rgba(255,240,230,.45)">T1027.004</span><span class="nm" style="left:56.50px;color:#ffffff">Compile After Delivery</span><span class="bd" style="background:rgba(0,0,0,.30);color:#ffffff">0</span></div><div class="cd" style="left:1313.00px;top:516.40px;width:223.00px;height:38.20px;background:#d32f2f;border-color:#de4545;box-shadow:inset 3px 0 0 #a32020;border-radius:6.5px;"><span class="ids" style="color:rgba(255,240,230,.45)">T1027.005</span><span class="nm" style="left:56.50px;color:#ffffff">Indicator Removal from<br>Tools</span><span class="bd" style="background:rgba(0,0,0,.30);color:#ffffff">0</span></div><div class="cd" style="left:1313.00px;top:557.00px;width:223.00px;height:31.50px;background:#e65100;border-color:#f26218;box-shadow:inset 3px 0 0 #a83c00;border-radius:6.5px;"><span class="ids" style="color:rgba(255,240,230,.45)">T1027.006</span><span class="nm" style="left:56.50px;color:#ffffff">HTML Smuggling</span><span class="bd" style="background:rgba(0,0,0,.32);color:#ffffff">1</span></div><div class="cd" style="left:1313.00px;top:590.90px;width:223.00px;height:31.50px;background:#d32f2f;border-color:#de4545;box-shadow:inset 3px 0 0 #a32020;border-radius:6.5px;"><span class="ids" style="color:rgba(255,240,230,.45)">T1027.007</span><span class="nm" style="left:56.50px;color:#ffffff">Dynamic API Resolution</span><span class="bd" style="background:rgba(0,0,0,.30);color:#ffffff">0</span></div><div class="cd" style="left:1313.00px;top:624.80px;width:223.00px;height:31.50px;background:#d32f2f;border-color:#de4545;box-shadow:inset 3px 0 0 #a32020;border-radius:6.5px;"><span class="ids" style="color:rgba(255,240,230,.45)">T1027.008</span><span class="nm" style="left:56.50px;color:#ffffff">Stripped Payloads</span><span class="bd" style="background:rgba(0,0,0,.30);color:#ffffff">0</span></div><div class="cd" style="left:1313.00px;top:658.70px;width:223.00px;height:31.50px;background:#f9a825;border-color:#fbb23c;box-shadow:inset 3px 0 0 #c4821a;border-radius:6.5px;"><span class="ids" style="color:rgba(80,50,0,.42)">T1027.009</span><span class="nm" style="left:56.50px;color:#3a2f18">Embedded Payloads</span><span class="bd" style="background:rgba(60,40,0,.35);color:#33280f">2</span></div><div class="cd" style="left:1313.00px;top:692.60px;width:223.00px;height:31.50px;background:#f9a825;border-color:#fbb23c;box-shadow:inset 3px 0 0 #c4821a;border-radius:6.5px;"><span class="ids" style="color:rgba(80,50,0,.42)">T1027.010</span><span class="nm" style="left:56.50px;color:#3a2f18">Command Obfuscation</span><span class="bd" style="background:rgba(60,40,0,.35);color:#33280f">2</span></div><div class="cd" style="left:1313.00px;top:726.50px;width:223.00px;height:31.50px;background:#e65100;border-color:#f26218;box-shadow:inset 3px 0 0 #a83c00;border-radius:6.5px;"><span class="ids" style="color:rgba(255,240,230,.45)">T1027.011</span><span class="nm" style="left:56.50px;color:#ffffff">Fileless Storage</span><span class="bd" style="background:rgba(0,0,0,.32);color:#ffffff">1</span></div><div class="cd" style="left:1313.00px;top:760.40px;width:223.00px;height:31.50px;background:#f9a825;border-color:#fbb23c;box-shadow:inset 3px 0 0 #c4821a;border-radius:6.5px;"><span class="ids" style="color:rgba(80,50,0,.42)">T1027.012</span><span class="nm" style="left:56.50px;color:#3a2f18">LNK Icon Smuggling</span><span class="bd" style="background:rgba(60,40,0,.35);color:#33280f">2</span></div><div class="cd" style="left:1313.00px;top:794.30px;width:223.00px;height:31.50px;background:#f9a825;border-color:#fbb23c;box-shadow:inset 3px 0 0 #c4821a;border-radius:6.5px;"><span class="ids" style="color:rgba(80,50,0,.42)">T1027.013</span><span class="nm" style="left:56.50px;color:#3a2f18">Encrypted/Encoded File</span><span class="bd" style="background:rgba(60,40,0,.35);color:#33280f">2</span></div><div class="cd" style="left:1313.00px;top:828.20px;width:223.00px;height:31.50px;background:#f9a825;border-color:#fbb23c;box-shadow:inset 3px 0 0 #c4821a;border-radius:6.5px;"><span class="ids" style="color:rgba(80,50,0,.42)">T1027.014</span><span class="nm" style="left:56.50px;color:#3a2f18">Polymorphic Code</span><span class="bd" style="background:rgba(60,40,0,.35);color:#33280f">2</span></div><div class="cd" style="left:1313.00px;top:862.10px;width:223.00px;height:31.50px;background:#e65100;border-color:#f26218;box-shadow:inset 3px 0 0 #a83c00;border-radius:6.5px;"><span class="ids" style="color:rgba(255,240,230,.45)">T1027.015</span><span class="nm" style="left:56.50px;color:#ffffff">Compression</span><span class="bd" style="background:rgba(0,0,0,.32);color:#ffffff">1</span></div><div class="cd" style="left:1313.00px;top:896.00px;width:223.00px;height:31.50px;background:#e65100;border-color:#f26218;box-shadow:inset 3px 0 0 #a83c00;border-radius:6.5px;"><span class="ids" style="color:rgba(255,240,230,.45)">T1027.016</span><span class="nm" style="left:56.50px;color:#ffffff">Junk Code Insertion</span><span class="bd" style="background:rgba(0,0,0,.32);color:#ffffff">1</span></div><div class="cd" style="left:1313.00px;top:929.90px;width:223.00px;height:31.50px;background:#e65100;border-color:#f26218;box-shadow:inset 3px 0 0 #a83c00;border-radius:6.5px;"><span class="ids" style="color:rgba(255,240,230,.45)">T1027.017</span><span class="nm" style="left:56.50px;color:#ffffff">SVG Smuggling</span><span class="bd" style="background:rgba(0,0,0,.32);color:#ffffff">1</span></div><div class="vl" style="left:1307px;top:380.80px;height:580.60px"></div><div class="pill" style="left:1293px;top:965.00px;width:18px"><i></i><b>11</b></div><div class="cd" style="left:1315.00px;top:965.00px;width:221.00px;height:31.50px;background:#1b5e20;border-color:#256b2a;"><span class="idp" style="color:rgba(255,255,255,.72)">T1036</span><span class="nm" style="left:39.10px;color:#ffffff">Masquerading</span><span class="bd" style="background:rgba(0,0,0,.28);color:#ffffff">8</span></div><div class="cd" style="left:1313.00px;top:998.90px;width:223.00px;height:38.20px;background:#1b5e20;border-color:#256b2a;box-shadow:inset 3px 0 0 #12451a;border-radius:6.5px;"><span class="ids" style="color:rgba(255,240,230,.45)">T1036.001</span><span class="nm" style="left:56.50px;color:#ffffff">Invalid Code<br>Signature</span><span class="bd" style="background:rgba(0,0,0,.28);color:#ffffff">4</span></div><div class="vl" style="left:1307px;top:998.90px;height:38.20px"></div><div class="pill" style="left:1547px;top:270.00px;width:16px"><i></i><b>8</b></div><div class="cd" style="left:1567.00px;top:270.00px;width:170.00px;height:38.20px;background:#1b5e20;border-color:#256b2a;"><span class="idp" style="color:rgba(255,255,255,.72)">T1003</span><span class="nm" style="left:39.10px;color:#ffffff">OS Credential<br>Dumping</span><span class="bd" style="background:rgba(0,0,0,.28);color:#ffffff">4</span></div><div class="cd" style="left:1567.00px;top:310.60px;width:170.00px;height:38.20px;background:#1b5e20;border-color:#256b2a;box-shadow:inset 3px 0 0 #12451a;border-radius:6.5px;"><span class="ids" style="color:rgba(255,240,230,.45)">T1003.001</span><span class="nm" style="left:56.50px;color:#ffffff">LSASS<br>Memory</span><span class="bd" style="background:rgba(0,0,0,.28);color:#ffffff">5</span></div><div class="cd" style="left:1567.00px;top:351.20px;width:170.00px;height:38.20px;background:#1b5e20;border-color:#256b2a;box-shadow:inset 3px 0 0 #12451a;border-radius:6.5px;"><span class="ids" style="color:rgba(255,240,230,.45)">T1003.002</span><span class="nm" style="left:56.50px;color:#ffffff">Security Account<br>Manager</span><span class="bd" style="background:rgba(0,0,0,.28);color:#ffffff">4</span></div><div class="cd" style="left:1567.00px;top:391.80px;width:170.00px;height:31.50px;background:#1b5e20;border-color:#256b2a;box-shadow:inset 3px 0 0 #12451a;border-radius:6.5px;"><span class="ids" style="color:rgba(255,240,230,.45)">T1003.003</span><span class="nm" style="left:56.50px;color:#ffffff">NTDS</span><span class="bd" style="background:rgba(0,0,0,.28);color:#ffffff">4</span></div><div class="cd" style="left:1567.00px;top:425.70px;width:170.00px;height:31.50px;background:#558b2f;border-color:#639a3a;box-shadow:inset 3px 0 0 #3f6a22;border-radius:6.5px;"><span class="ids" style="color:rgba(255,240,230,.45)">T1003.004</span><span class="nm" style="left:56.50px;color:#ffffff">LSA Secrets</span><span class="bd" style="background:rgba(0,0,0,.28);color:#ffffff">3</span></div><div class="cd" style="left:1567.00px;top:459.60px;width:170.00px;height:38.20px;background:#1b5e20;border-color:#256b2a;box-shadow:inset 3px 0 0 #12451a;border-radius:6.5px;"><span class="ids" style="color:rgba(255,240,230,.45)">T1003.005</span><span class="nm" style="left:56.50px;color:#ffffff">Cached Domain<br>Credentials</span><span class="bd" style="background:rgba(0,0,0,.28);color:#ffffff">4</span></div><div class="cd" style="left:1567.00px;top:500.20px;width:170.00px;height:31.50px;background:#558b2f;border-color:#639a3a;box-shadow:inset 3px 0 0 #3f6a22;border-radius:6.5px;"><span class="ids" style="color:rgba(255,240,230,.45)">T1003.006</span><span class="nm" style="left:56.50px;color:#ffffff">DCSync</span><span class="bd" style="background:rgba(0,0,0,.28);color:#ffffff">3</span></div><div class="cd" style="left:1567.00px;top:534.10px;width:170.00px;height:38.20px;background:#f9a825;border-color:#fbb23c;box-shadow:inset 3px 0 0 #c4821a;border-radius:6.5px;"><span class="ids" style="color:rgba(80,50,0,.42)">T1003.007</span><span class="nm" style="left:56.50px;color:#3a2f18">Proc<br>Filesystem</span><span class="bd" style="background:rgba(60,40,0,.35);color:#33280f">2</span></div><div class="cd" style="left:1567.00px;top:574.70px;width:170.00px;height:38.20px;background:#f9a825;border-color:#fbb23c;box-shadow:inset 3px 0 0 #c4821a;border-radius:6.5px;"><span class="ids" style="color:rgba(80,50,0,.42)">T1003.008</span><span class="nm" style="left:56.50px;color:#3a2f18">/etc/passwd and<br>/etc/shadow</span><span class="bd" style="background:rgba(60,40,0,.35);color:#33280f">2</span></div><div class="vl" style="left:1561px;top:310.60px;height:302.30px"></div><div class="cd" style="left:1547.00px;top:616.50px;width:190.00px;height:31.50px;background:#1b5e20;border-color:#256b2a;"><span class="idp" style="color:rgba(255,255,255,.72)">T1040</span><span class="nm" style="left:39.10px;color:#ffffff">Network Sniffing</span><span class="bd" style="background:rgba(0,0,0,.28);color:#ffffff">4</span></div><div class="pill" style="left:1547px;top:651.60px;width:16px"><i></i><b>4</b></div><div class="cd" style="left:1567.00px;top:651.60px;width:170.00px;height:31.50px;background:#d32f2f;border-color:#de4545;"><span class="idp" style="color:rgba(255,255,255,.72)">T1056</span><span class="nm" style="left:39.10px;color:#ffffff">Input Capture</span><span class="bd" style="background:rgba(0,0,0,.30);color:#ffffff">0</span></div><div class="cd" style="left:1567.00px;top:685.50px;width:170.00px;height:31.50px;background:#d32f2f;border-color:#de4545;box-shadow:inset 3px 0 0 #a32020;border-radius:6.5px;"><span class="ids" style="color:rgba(255,240,230,.45)">T1056.001</span><span class="nm" style="left:56.50px;color:#ffffff">Keylogging</span><span class="bd" style="background:rgba(0,0,0,.30);color:#ffffff">0</span></div><div class="cd" style="left:1567.00px;top:719.40px;width:170.00px;height:38.20px;background:#e65100;border-color:#f26218;box-shadow:inset 3px 0 0 #a83c00;border-radius:6.5px;"><span class="ids" style="color:rgba(255,240,230,.45)">T1056.002</span><span class="nm" style="left:56.50px;color:#ffffff">GUI Input<br>Capture</span><span class="bd" style="background:rgba(0,0,0,.32);color:#ffffff">1</span></div><div class="cd" style="left:1567.00px;top:760.00px;width:170.00px;height:38.20px;background:#e65100;border-color:#f26218;box-shadow:inset 3px 0 0 #a83c00;border-radius:6.5px;"><span class="ids" style="color:rgba(255,240,230,.45)">T1056.003</span><span class="nm" style="left:56.50px;color:#ffffff">Web Portal<br>Capture</span><span class="bd" style="background:rgba(0,0,0,.32);color:#ffffff">1</span></div><div class="cd" style="left:1567.00px;top:800.60px;width:170.00px;height:38.20px;background:#d32f2f;border-color:#de4545;box-shadow:inset 3px 0 0 #a32020;border-radius:6.5px;"><span class="ids" style="color:rgba(255,240,230,.45)">T1056.004</span><span class="nm" style="left:56.50px;color:#ffffff">Credential API<br>Hooking</span><span class="bd" style="background:rgba(0,0,0,.30);color:#ffffff">0</span></div><div class="vl" style="left:1561px;top:685.50px;height:153.30px"></div><div class="pill" style="left:1547px;top:842.40px;width:16px"><i></i><b>4</b></div><div class="cd" style="left:1567.00px;top:842.40px;width:170.00px;height:31.50px;background:#1b5e20;border-color:#256b2a;"><span class="idp" style="color:rgba(255,255,255,.72)">T1110</span><span class="nm" style="left:39.10px;color:#ffffff">Brute Force</span><span class="bd" style="background:rgba(0,0,0,.28);color:#ffffff">4</span></div><div class="cd" style="left:1567.00px;top:876.30px;width:170.00px;height:38.20px;background:#1b5e20;border-color:#256b2a;box-shadow:inset 3px 0 0 #12451a;border-radius:6.5px;"><span class="ids" style="color:rgba(255,240,230,.45)">T1110.001</span><span class="nm" style="left:56.50px;color:#ffffff">Password<br>Guessing</span><span class="bd" style="background:rgba(0,0,0,.28);color:#ffffff">4</span></div><div class="cd" style="left:1567.00px;top:916.90px;width:170.00px;height:38.20px;background:#f9a825;border-color:#fbb23c;box-shadow:inset 3px 0 0 #c4821a;border-radius:6.5px;"><span class="ids" style="color:rgba(80,50,0,.42)">T1110.002</span><span class="nm" style="left:56.50px;color:#3a2f18">Password<br>Cracking</span><span class="bd" style="background:rgba(60,40,0,.35);color:#33280f">2</span></div><div class="cd" style="left:1567.00px;top:957.50px;width:170.00px;height:38.20px;background:#558b2f;border-color:#639a3a;box-shadow:inset 3px 0 0 #3f6a22;border-radius:6.5px;"><span class="ids" style="color:rgba(255,240,230,.45)">T1110.003</span><span class="nm" style="left:56.50px;color:#ffffff">Password<br>Spraying</span><span class="bd" style="background:rgba(0,0,0,.28);color:#ffffff">3</span></div><div class="cd" style="left:1567.00px;top:998.10px;width:170.00px;height:38.20px;background:#558b2f;border-color:#639a3a;box-shadow:inset 3px 0 0 #3f6a22;border-radius:6.5px;"><span class="ids" style="color:rgba(255,240,230,.45)">T1110.004</span><span class="nm" style="left:56.50px;color:#ffffff">Credential<br>Stuffing</span><span class="bd" style="background:rgba(0,0,0,.28);color:#ffffff">3</span></div><div class="vl" style="left:1561px;top:876.30px;height:160.00px"></div>
  <div class="a" style="left:1545px;top:192px;width:41px;height:800px;background:linear-gradient(90deg,rgba(8,12,18,0),rgba(8,12,18,.3))"></div>
  <div class="a" style="left:1307px;top:965px;font-size:9px;letter-spacing:.8px;color:rgba(125,150,175,.72);line-height:12px;white-space:nowrap;z-index:6"><span style="letter-spacing:2.3px">↑↓←→</span> NAVIGATE &nbsp;·&nbsp; ENTER TO OPEN &nbsp;·&nbsp; / TO SEARCH</div>
</div>

</body></html>
